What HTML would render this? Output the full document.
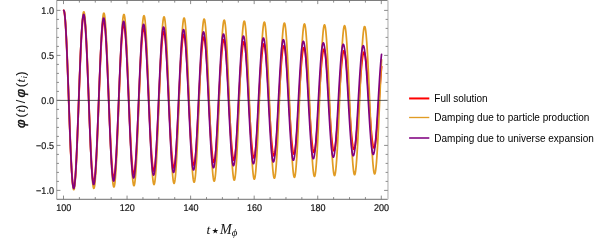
<!DOCTYPE html>
<html><head><meta charset="utf-8"><title>plot</title>
<style>
html,body{margin:0;padding:0;background:#fff;}
svg{display:block}
.tk{font-family:"Liberation Sans",sans-serif;font-size:9.8px;text-rendering:geometricPrecision;fill:#111;stroke:#111;stroke-width:0.2px}
.lg{font-family:"Liberation Sans",sans-serif;font-size:10px;fill:#000}
</style></head><body>
<svg width="600" height="241" viewBox="0 0 600 241">
<rect width="600" height="241" fill="#fff"/>
<g fill="none" stroke-linejoin="round" stroke-linecap="round">
<path d="M63.75,10.40 L63.91,10.56 L64.07,10.94 L64.23,11.54 L64.39,12.36 L64.54,13.40 L64.70,14.66 L64.86,16.13 L65.02,17.80 L65.18,19.68 L65.34,21.76 L65.50,24.03 L65.66,26.49 L65.82,29.13 L65.97,31.95 L66.13,34.93 L66.29,38.07 L66.45,41.37 L66.61,44.81 L66.77,48.38 L66.93,52.08 L67.09,55.89 L67.25,59.81 L67.40,63.83 L67.56,67.94 L67.72,72.12 L67.88,76.37 L68.04,80.67 L68.20,85.02 L68.36,89.40 L68.52,93.81 L68.68,98.23 L68.83,102.65 L68.99,107.06 L69.15,111.44 L69.31,115.80 L69.47,120.11 L69.63,124.37 L69.79,128.57 L69.95,132.69 L70.11,136.73 L70.26,140.68 L70.42,144.52 L70.58,148.24 L70.74,151.85 L70.90,155.32 L71.06,158.65 L71.22,161.84 L71.38,164.86 L71.54,167.73 L71.69,170.42 L71.85,172.94 L72.01,175.28 L72.17,177.43 L72.33,179.38 L72.49,181.13 L72.65,182.69 L72.81,184.03 L72.97,185.17 L73.13,186.10 L73.28,186.81 L73.44,187.31 L73.60,187.59 L73.76,187.65 L73.92,187.49 L74.08,187.12 L74.24,186.54 L74.40,185.74 L74.56,184.73 L74.71,183.51 L74.87,182.08 L75.03,180.46 L75.19,178.63 L75.35,176.61 L75.51,174.41 L75.67,172.02 L75.83,169.46 L75.99,166.73 L76.14,163.84 L76.30,160.79 L76.46,157.59 L76.62,154.26 L76.78,150.79 L76.94,147.20 L77.10,143.50 L77.26,139.70 L77.42,135.80 L77.57,131.82 L77.73,127.76 L77.89,123.64 L78.05,119.46 L78.21,115.24 L78.37,110.99 L78.53,106.72 L78.69,102.43 L78.85,98.15 L79.00,93.87 L79.16,89.62 L79.32,85.39 L79.48,81.21 L79.64,77.07 L79.80,73.00 L79.96,69.00 L80.12,65.09 L80.28,61.26 L80.43,57.54 L80.59,53.92 L80.75,50.43 L80.91,47.06 L81.07,43.83 L81.23,40.74 L81.39,37.80 L81.55,35.02 L81.71,32.41 L81.86,29.97 L82.02,27.70 L82.18,25.62 L82.34,23.73 L82.50,22.03 L82.66,20.52 L82.82,19.22 L82.98,18.11 L83.14,17.22 L83.29,16.53 L83.45,16.05 L83.61,15.78 L83.77,15.72 L83.93,15.87 L84.09,16.23 L84.25,16.80 L84.41,17.58 L84.57,18.57 L84.72,19.75 L84.88,21.14 L85.04,22.72 L85.20,24.49 L85.36,26.45 L85.52,28.59 L85.68,30.91 L85.84,33.40 L86.00,36.05 L86.15,38.86 L86.31,41.83 L86.47,44.93 L86.63,48.17 L86.79,51.53 L86.95,55.02 L87.11,58.61 L87.27,62.31 L87.43,66.09 L87.59,69.96 L87.74,73.90 L87.90,77.90 L88.06,81.96 L88.22,86.06 L88.38,90.18 L88.54,94.33 L88.70,98.50 L88.86,102.66 L89.02,106.81 L89.17,110.94 L89.33,115.05 L89.49,119.11 L89.65,123.12 L89.81,127.08 L89.97,130.96 L90.13,134.76 L90.29,138.48 L90.45,142.09 L90.60,145.60 L90.76,149.00 L90.92,152.27 L91.08,155.40 L91.24,158.40 L91.40,161.25 L91.56,163.95 L91.72,166.49 L91.88,168.86 L92.03,171.06 L92.19,173.08 L92.35,174.91 L92.51,176.57 L92.67,178.03 L92.83,179.29 L92.99,180.36 L93.15,181.23 L93.31,181.90 L93.46,182.36 L93.62,182.62 L93.78,182.67 L93.94,182.52 L94.10,182.17 L94.26,181.61 L94.42,180.86 L94.58,179.90 L94.74,178.74 L94.89,177.40 L95.05,175.86 L95.21,174.13 L95.37,172.23 L95.53,170.14 L95.69,167.89 L95.85,165.47 L96.01,162.89 L96.17,160.16 L96.32,157.28 L96.48,154.26 L96.64,151.11 L96.80,147.84 L96.96,144.45 L97.12,140.95 L97.28,137.36 L97.44,133.68 L97.60,129.92 L97.75,126.09 L97.91,122.20 L98.07,118.26 L98.23,114.28 L98.39,110.26 L98.55,106.23 L98.71,102.18 L98.87,98.14 L99.03,94.10 L99.18,90.08 L99.34,86.09 L99.50,82.14 L99.66,78.24 L99.82,74.40 L99.98,70.63 L100.14,66.93 L100.30,63.32 L100.46,59.81 L100.61,56.39 L100.77,53.10 L100.93,49.92 L101.09,46.87 L101.25,43.95 L101.41,41.18 L101.57,38.56 L101.73,36.10 L101.89,33.79 L102.04,31.66 L102.20,29.70 L102.36,27.91 L102.52,26.31 L102.68,24.89 L102.84,23.66 L103.00,22.62 L103.16,21.78 L103.32,21.13 L103.47,20.68 L103.63,20.43 L103.79,20.38 L103.95,20.53 L104.11,20.88 L104.27,21.42 L104.43,22.16 L104.59,23.09 L104.75,24.22 L104.91,25.53 L105.06,27.03 L105.22,28.71 L105.38,30.56 L105.54,32.59 L105.70,34.79 L105.86,37.14 L106.02,39.66 L106.18,42.32 L106.34,45.12 L106.49,48.06 L106.65,51.12 L106.81,54.31 L106.97,57.60 L107.13,61.00 L107.29,64.50 L107.45,68.08 L107.61,71.74 L107.77,75.47 L107.92,79.25 L108.08,83.09 L108.24,86.96 L108.40,90.87 L108.56,94.80 L108.72,98.73 L108.88,102.67 L109.04,106.60 L109.20,110.51 L109.35,114.39 L109.51,118.23 L109.67,122.03 L109.83,125.76 L109.99,129.44 L110.15,133.03 L110.31,136.54 L110.47,139.96 L110.63,143.28 L110.78,146.49 L110.94,149.58 L111.10,152.55 L111.26,155.38 L111.42,158.08 L111.58,160.63 L111.74,163.03 L111.90,165.27 L112.06,167.34 L112.21,169.25 L112.37,170.99 L112.53,172.55 L112.69,173.92 L112.85,175.12 L113.01,176.13 L113.17,176.94 L113.33,177.57 L113.49,178.01 L113.64,178.25 L113.80,178.30 L113.96,178.15 L114.12,177.81 L114.28,177.28 L114.44,176.56 L114.60,175.65 L114.76,174.55 L114.92,173.27 L115.07,171.81 L115.23,170.17 L115.39,168.36 L115.55,166.39 L115.71,164.25 L115.87,161.95 L116.03,159.50 L116.19,156.91 L116.35,154.18 L116.50,151.32 L116.66,148.33 L116.82,145.23 L116.98,142.02 L117.14,138.71 L117.30,135.30 L117.46,131.81 L117.62,128.25 L117.78,124.62 L117.93,120.93 L118.09,117.19 L118.25,113.42 L118.41,109.62 L118.57,105.79 L118.73,101.96 L118.89,98.13 L119.05,94.30 L119.21,90.49 L119.37,86.71 L119.52,82.97 L119.68,79.27 L119.84,75.63 L120.00,72.06 L120.16,68.56 L120.32,65.14 L120.48,61.81 L120.64,58.58 L120.80,55.45 L120.95,52.44 L121.11,49.55 L121.27,46.79 L121.43,44.17 L121.59,41.69 L121.75,39.35 L121.91,37.17 L122.07,35.15 L122.23,33.29 L122.38,31.60 L122.54,30.09 L122.70,28.75 L122.86,27.59 L123.02,26.61 L123.18,25.81 L123.34,25.20 L123.50,24.78 L123.66,24.55 L123.81,24.50 L123.97,24.65 L124.13,24.98 L124.29,25.50 L124.45,26.21 L124.61,27.10 L124.77,28.17 L124.93,29.42 L125.09,30.84 L125.24,32.44 L125.40,34.20 L125.56,36.13 L125.72,38.22 L125.88,40.46 L126.04,42.84 L126.20,45.37 L126.36,48.03 L126.52,50.82 L126.67,53.74 L126.83,56.76 L126.99,59.89 L127.15,63.12 L127.31,66.44 L127.47,69.84 L127.63,73.32 L127.79,76.86 L127.95,80.45 L128.10,84.09 L128.26,87.77 L128.42,91.48 L128.58,95.21 L128.74,98.94 L128.90,102.68 L129.06,106.41 L129.22,110.12 L129.38,113.80 L129.53,117.45 L129.69,121.05 L129.85,124.60 L130.01,128.09 L130.17,131.50 L130.33,134.83 L130.49,138.08 L130.65,141.23 L130.81,144.27 L130.96,147.20 L131.12,150.02 L131.28,152.71 L131.44,155.26 L131.60,157.68 L131.76,159.96 L131.92,162.08 L132.08,164.05 L132.24,165.86 L132.39,167.50 L132.55,168.98 L132.71,170.29 L132.87,171.42 L133.03,172.37 L133.19,173.14 L133.35,173.73 L133.51,174.14 L133.67,174.37 L133.82,174.41 L133.98,174.27 L134.14,173.94 L134.30,173.43 L134.46,172.74 L134.62,171.87 L134.78,170.82 L134.94,169.60 L135.10,168.21 L135.25,166.65 L135.41,164.93 L135.57,163.05 L135.73,161.01 L135.89,158.82 L136.05,156.49 L136.21,154.03 L136.37,151.43 L136.53,148.71 L136.69,145.86 L136.84,142.91 L137.00,139.86 L137.16,136.71 L137.32,133.47 L137.48,130.15 L137.64,126.76 L137.80,123.31 L137.96,119.80 L138.12,116.25 L138.27,112.66 L138.43,109.04 L138.59,105.40 L138.75,101.76 L138.91,98.11 L139.07,94.48 L139.23,90.86 L139.39,87.26 L139.55,83.70 L139.70,80.19 L139.86,76.73 L140.02,73.33 L140.18,70.00 L140.34,66.75 L140.50,63.59 L140.66,60.52 L140.82,57.55 L140.98,54.69 L141.13,51.94 L141.29,49.32 L141.45,46.83 L141.61,44.47 L141.77,42.25 L141.93,40.18 L142.09,38.26 L142.25,36.50 L142.41,34.90 L142.56,33.46 L142.72,32.18 L142.88,31.08 L143.04,30.16 L143.20,29.40 L143.36,28.83 L143.52,28.43 L143.68,28.21 L143.84,28.18 L143.99,28.32 L144.15,28.64 L144.31,29.14 L144.47,29.81 L144.63,30.66 L144.79,31.69 L144.95,32.88 L145.11,34.24 L145.27,35.77 L145.42,37.45 L145.58,39.29 L145.74,41.28 L145.90,43.41 L146.06,45.69 L146.22,48.10 L146.38,50.64 L146.54,53.30 L146.70,56.07 L146.85,58.95 L147.01,61.94 L147.17,65.01 L147.33,68.18 L147.49,71.42 L147.65,74.73 L147.81,78.10 L147.97,81.52 L148.13,84.99 L148.28,88.49 L148.44,92.03 L148.60,95.58 L148.76,99.13 L148.92,102.69 L149.08,106.24 L149.24,109.78 L149.40,113.29 L149.56,116.76 L149.71,120.19 L149.87,123.57 L150.03,126.88 L150.19,130.13 L150.35,133.31 L150.51,136.40 L150.67,139.39 L150.83,142.29 L150.99,145.08 L151.14,147.76 L151.30,150.32 L151.46,152.75 L151.62,155.05 L151.78,157.21 L151.94,159.23 L152.10,161.11 L152.26,162.83 L152.42,164.39 L152.58,165.79 L152.73,167.03 L152.89,168.11 L153.05,169.01 L153.21,169.74 L153.37,170.30 L153.53,170.69 L153.69,170.90 L153.85,170.93 L154.01,170.79 L154.16,170.48 L154.32,169.99 L154.48,169.32 L154.64,168.49 L154.80,167.49 L154.96,166.32 L155.12,164.99 L155.28,163.50 L155.44,161.85 L155.59,160.06 L155.75,158.11 L155.91,156.02 L156.07,153.80 L156.23,151.44 L156.39,148.96 L156.55,146.37 L156.71,143.65 L156.87,140.84 L157.02,137.92 L157.18,134.91 L157.34,131.82 L157.50,128.66 L157.66,125.42 L157.82,122.13 L157.98,118.78 L158.14,115.40 L158.30,111.97 L158.45,108.52 L158.61,105.05 L158.77,101.58 L158.93,98.10 L159.09,94.63 L159.25,91.18 L159.41,87.75 L159.57,84.36 L159.73,81.01 L159.88,77.71 L160.04,74.47 L160.20,71.30 L160.36,68.20 L160.52,65.18 L160.68,62.25 L160.84,59.42 L161.00,56.70 L161.16,54.08 L161.31,51.58 L161.47,49.21 L161.63,46.96 L161.79,44.85 L161.95,42.88 L162.11,41.05 L162.27,39.37 L162.43,37.85 L162.59,36.48 L162.74,35.27 L162.90,34.22 L163.06,33.34 L163.22,32.63 L163.38,32.08 L163.54,31.71 L163.70,31.50 L163.86,31.47 L164.02,31.61 L164.17,31.92 L164.33,32.40 L164.49,33.05 L164.65,33.87 L164.81,34.85 L164.97,35.99 L165.13,37.30 L165.29,38.75 L165.45,40.37 L165.60,42.13 L165.76,44.03 L165.92,46.07 L166.08,48.24 L166.24,50.55 L166.40,52.97 L166.56,55.52 L166.72,58.17 L166.88,60.92 L167.03,63.77 L167.19,66.71 L167.35,69.74 L167.51,72.83 L167.67,75.99 L167.83,79.21 L167.99,82.48 L168.15,85.80 L168.31,89.14 L168.47,92.52 L168.62,95.91 L168.78,99.31 L168.94,102.71 L169.10,106.10 L169.26,109.47 L169.42,112.82 L169.58,116.14 L169.74,119.41 L169.90,122.64 L170.05,125.80 L170.21,128.91 L170.37,131.93 L170.53,134.88 L170.69,137.74 L170.85,140.51 L171.01,143.17 L171.17,145.73 L171.33,148.17 L171.48,150.49 L171.64,152.69 L171.80,154.75 L171.96,156.68 L172.12,158.46 L172.28,160.10 L172.44,161.59 L172.60,162.93 L172.76,164.11 L172.91,165.13 L173.07,165.99 L173.23,166.68 L173.39,167.21 L173.55,167.58 L173.71,167.77 L173.87,167.80 L174.03,167.66 L174.19,167.36 L174.34,166.89 L174.50,166.25 L174.66,165.45 L174.82,164.49 L174.98,163.37 L175.14,162.09 L175.30,160.66 L175.46,159.08 L175.62,157.36 L175.77,155.50 L175.93,153.50 L176.09,151.37 L176.25,149.12 L176.41,146.74 L176.57,144.26 L176.73,141.66 L176.89,138.97 L177.05,136.18 L177.20,133.30 L177.36,130.34 L177.52,127.31 L177.68,124.22 L177.84,121.07 L178.00,117.87 L178.16,114.63 L178.32,111.35 L178.48,108.05 L178.63,104.74 L178.79,101.41 L178.95,98.09 L179.11,94.77 L179.27,91.47 L179.43,88.19 L179.59,84.95 L179.75,81.75 L179.91,78.59 L180.06,75.50 L180.22,72.46 L180.38,69.50 L180.54,66.62 L180.70,63.82 L180.86,61.12 L181.02,58.51 L181.18,56.01 L181.34,53.62 L181.49,51.36 L181.65,49.21 L181.81,47.19 L181.97,45.31 L182.13,43.57 L182.29,41.96 L182.45,40.51 L182.61,39.20 L182.77,38.05 L182.93,37.05 L183.08,36.21 L183.24,35.53 L183.40,35.02 L183.56,34.66 L183.72,34.47 L183.88,34.45 L184.04,34.59 L184.20,34.89 L184.36,35.35 L184.51,35.98 L184.67,36.76 L184.83,37.71 L184.99,38.80 L185.15,40.05 L185.31,41.45 L185.47,43.00 L185.63,44.69 L185.79,46.51 L185.94,48.47 L186.10,50.55 L186.26,52.76 L186.42,55.09 L186.58,57.52 L186.74,60.06 L186.90,62.70 L187.06,65.43 L187.22,68.25 L187.37,71.15 L187.53,74.11 L187.69,77.14 L187.85,80.22 L188.01,83.36 L188.17,86.53 L188.33,89.73 L188.49,92.96 L188.65,96.21 L188.80,99.46 L188.96,102.72 L189.12,105.96 L189.28,109.19 L189.44,112.40 L189.60,115.57 L189.76,118.71 L189.92,121.80 L190.08,124.83 L190.23,127.80 L190.39,130.69 L190.55,133.52 L190.71,136.25 L190.87,138.90 L191.03,141.45 L191.19,143.89 L191.35,146.23 L191.51,148.45 L191.66,150.55 L191.82,152.52 L191.98,154.36 L192.14,156.07 L192.30,157.63 L192.46,159.06 L192.62,160.33 L192.78,161.46 L192.94,162.43 L193.09,163.25 L193.25,163.91 L193.41,164.42 L193.57,164.76 L193.73,164.95 L193.89,164.97 L194.05,164.83 L194.21,164.54 L194.37,164.08 L194.52,163.46 L194.68,162.69 L194.84,161.77 L195.00,160.69 L195.16,159.46 L195.32,158.09 L195.48,156.58 L195.64,154.92 L195.80,153.13 L195.95,151.22 L196.11,149.17 L196.27,147.01 L196.43,144.73 L196.59,142.34 L196.75,139.85 L196.91,137.27 L197.07,134.59 L197.23,131.83 L197.38,129.00 L197.54,126.09 L197.70,123.13 L197.86,120.11 L198.02,117.04 L198.18,113.93 L198.34,110.79 L198.50,107.63 L198.66,104.45 L198.81,101.26 L198.97,98.08 L199.13,94.90 L199.29,91.73 L199.45,88.59 L199.61,85.49 L199.77,82.42 L199.93,79.39 L200.09,76.43 L200.25,73.52 L200.40,70.68 L200.56,67.92 L200.72,65.24 L200.88,62.65 L201.04,60.15 L201.20,57.76 L201.36,55.48 L201.52,53.30 L201.68,51.25 L201.83,49.32 L201.99,47.52 L202.15,45.85 L202.31,44.32 L202.47,42.92 L202.63,41.68 L202.79,40.57 L202.95,39.62 L203.11,38.82 L203.26,38.17 L203.42,37.68 L203.58,37.35 L203.74,37.17 L203.90,37.15 L204.06,37.29 L204.22,37.58 L204.38,38.03 L204.54,38.63 L204.69,39.39 L204.85,40.30 L205.01,41.36 L205.17,42.56 L205.33,43.91 L205.49,45.39 L205.65,47.01 L205.81,48.77 L205.97,50.65 L206.12,52.65 L206.28,54.77 L206.44,57.01 L206.60,59.35 L206.76,61.79 L206.92,64.32 L207.08,66.94 L207.24,69.65 L207.40,72.43 L207.55,75.27 L207.71,78.18 L207.87,81.14 L208.03,84.15 L208.19,87.19 L208.35,90.27 L208.51,93.37 L208.67,96.48 L208.83,99.61 L208.98,102.73 L209.14,105.84 L209.30,108.94 L209.46,112.02 L209.62,115.07 L209.78,118.07 L209.94,121.03 L210.10,123.94 L210.26,126.79 L210.41,129.57 L210.57,132.27 L210.73,134.90 L210.89,137.44 L211.05,139.88 L211.21,142.22 L211.37,144.46 L211.53,146.59 L211.69,148.60 L211.84,150.49 L212.00,152.25 L212.16,153.89 L212.32,155.39 L212.48,156.75 L212.64,157.97 L212.80,159.05 L212.96,159.98 L213.12,160.76 L213.27,161.39 L213.43,161.87 L213.59,162.20 L213.75,162.37 L213.91,162.39 L214.07,162.26 L214.23,161.97 L214.39,161.52 L214.55,160.93 L214.70,160.18 L214.86,159.29 L215.02,158.25 L215.18,157.07 L215.34,155.75 L215.50,154.29 L215.66,152.70 L215.82,150.98 L215.98,149.13 L216.14,147.17 L216.29,145.09 L216.45,142.90 L216.61,140.60 L216.77,138.21 L216.93,135.72 L217.09,133.15 L217.25,130.50 L217.41,127.77 L217.57,124.98 L217.72,122.13 L217.88,119.23 L218.04,116.28 L218.20,113.29 L218.36,110.28 L218.52,107.24 L218.68,104.19 L218.84,101.12 L219.00,98.06 L219.15,95.01 L219.31,91.97 L219.47,88.96 L219.63,85.97 L219.79,83.02 L219.95,80.12 L220.11,77.27 L220.27,74.48 L220.43,71.76 L220.58,69.11 L220.74,66.53 L220.90,64.05 L221.06,61.65 L221.22,59.36 L221.38,57.16 L221.54,55.08 L221.70,53.11 L221.86,51.26 L222.01,49.53 L222.17,47.93 L222.33,46.46 L222.49,45.13 L222.65,43.93 L222.81,42.88 L222.97,41.96 L223.13,41.20 L223.29,40.58 L223.44,40.11 L223.60,39.80 L223.76,39.63 L223.92,39.61 L224.08,39.75 L224.24,40.03 L224.40,40.47 L224.56,41.06 L224.72,41.79 L224.87,42.67 L225.03,43.69 L225.19,44.85 L225.35,46.14 L225.51,47.58 L225.67,49.14 L225.83,50.83 L225.99,52.64 L226.15,54.57 L226.30,56.61 L226.46,58.76 L226.62,61.01 L226.78,63.36 L226.94,65.80 L227.10,68.32 L227.26,70.93 L227.42,73.60 L227.58,76.34 L227.73,79.13 L227.89,81.98 L228.05,84.87 L228.21,87.80 L228.37,90.76 L228.53,93.74 L228.69,96.74 L228.85,99.74 L229.01,102.74 L229.16,105.74 L229.32,108.72 L229.48,111.67 L229.64,114.60 L229.80,117.49 L229.96,120.34 L230.12,123.13 L230.28,125.87 L230.44,128.54 L230.59,131.14 L230.75,133.66 L230.91,136.10 L231.07,138.45 L231.23,140.70 L231.39,142.85 L231.55,144.89 L231.71,146.82 L231.87,148.64 L232.03,150.33 L232.18,151.90 L232.34,153.34 L232.50,154.64 L232.66,155.82 L232.82,156.85 L232.98,157.74 L233.14,158.49 L233.30,159.09 L233.46,159.55 L233.61,159.86 L233.77,160.02 L233.93,160.03 L234.09,159.90 L234.25,159.62 L234.41,159.19 L234.57,158.61 L234.73,157.89 L234.89,157.03 L235.04,156.02 L235.20,154.88 L235.36,153.61 L235.52,152.20 L235.68,150.67 L235.84,149.01 L236.00,147.23 L236.16,145.33 L236.32,143.33 L236.47,141.22 L236.63,139.01 L236.79,136.70 L236.95,134.31 L237.11,131.83 L237.27,129.28 L237.43,126.65 L237.59,123.96 L237.75,121.22 L237.90,118.42 L238.06,115.59 L238.22,112.71 L238.38,109.81 L238.54,106.88 L238.70,103.94 L238.86,101.00 L239.02,98.05 L239.18,95.11 L239.33,92.19 L239.49,89.29 L239.65,86.42 L239.81,83.58 L239.97,80.79 L240.13,78.05 L240.29,75.36 L240.45,72.74 L240.61,70.19 L240.76,67.72 L240.92,65.33 L241.08,63.02 L241.24,60.82 L241.40,58.71 L241.56,56.70 L241.72,54.81 L241.88,53.03 L242.04,51.37 L242.19,49.83 L242.35,48.42 L242.51,47.14 L242.67,46.00 L242.83,44.98 L242.99,44.11 L243.15,43.38 L243.31,42.79 L243.47,42.34 L243.62,42.04 L243.78,41.88 L243.94,41.87 L244.10,42.01 L244.26,42.29 L244.42,42.71 L244.58,43.28 L244.74,43.99 L244.90,44.83 L245.05,45.82 L245.21,46.94 L245.37,48.20 L245.53,49.58 L245.69,51.09 L245.85,52.72 L246.01,54.47 L246.17,56.33 L246.33,58.30 L246.48,60.37 L246.64,62.54 L246.80,64.81 L246.96,67.16 L247.12,69.59 L247.28,72.10 L247.44,74.67 L247.60,77.31 L247.76,80.01 L247.92,82.75 L248.07,85.54 L248.23,88.36 L248.39,91.21 L248.55,94.08 L248.71,96.97 L248.87,99.86 L249.03,102.75 L249.19,105.64 L249.35,108.51 L249.50,111.36 L249.66,114.18 L249.82,116.96 L249.98,119.70 L250.14,122.39 L250.30,125.03 L250.46,127.60 L250.62,130.10 L250.78,132.53 L250.93,134.87 L251.09,137.13 L251.25,139.30 L251.41,141.37 L251.57,143.33 L251.73,145.19 L251.89,146.94 L252.05,148.56 L252.21,150.07 L252.36,151.46 L252.52,152.71 L252.68,153.84 L252.84,154.83 L253.00,155.68 L253.16,156.40 L253.32,156.98 L253.48,157.41 L253.64,157.71 L253.79,157.86 L253.95,157.87 L254.11,157.73 L254.27,157.46 L254.43,157.04 L254.59,156.48 L254.75,155.78 L254.91,154.95 L255.07,153.98 L255.22,152.87 L255.38,151.64 L255.54,150.28 L255.70,148.80 L255.86,147.20 L256.02,145.48 L256.18,143.65 L256.34,141.71 L256.50,139.68 L256.65,137.54 L256.81,135.32 L256.97,133.01 L257.13,130.62 L257.29,128.15 L257.45,125.62 L257.61,123.03 L257.77,120.38 L257.93,117.68 L258.08,114.95 L258.24,112.17 L258.40,109.37 L258.56,106.55 L258.72,103.72 L258.88,100.88 L259.04,98.04 L259.20,95.21 L259.36,92.39 L259.51,89.59 L259.67,86.82 L259.83,84.09 L259.99,81.40 L260.15,78.76 L260.31,76.17 L260.47,73.64 L260.63,71.19 L260.79,68.80 L260.94,66.50 L261.10,64.28 L261.26,62.16 L261.42,60.13 L261.58,58.20 L261.74,56.38 L261.90,54.66 L262.06,53.07 L262.22,51.59 L262.38,50.23 L262.53,49.00 L262.69,47.90 L262.85,46.92 L263.01,46.09 L263.17,45.38 L263.33,44.82 L263.49,44.39 L263.65,44.10 L263.81,43.96 L263.96,43.95 L264.12,44.08 L264.28,44.36 L264.44,44.77 L264.60,45.32 L264.76,46.01 L264.92,46.83 L265.08,47.79 L265.24,48.87 L265.39,50.08 L265.55,51.42 L265.71,52.88 L265.87,54.46 L266.03,56.15 L266.19,57.94 L266.35,59.85 L266.51,61.85 L266.67,63.95 L266.82,66.14 L266.98,68.41 L267.14,70.76 L267.30,73.18 L267.46,75.67 L267.62,78.21 L267.78,80.82 L267.94,83.46 L268.10,86.15 L268.25,88.88 L268.41,91.63 L268.57,94.40 L268.73,97.19 L268.89,99.98 L269.05,102.77 L269.21,105.55 L269.37,108.32 L269.53,111.07 L269.68,113.79 L269.84,116.47 L270.00,119.11 L270.16,121.71 L270.32,124.25 L270.48,126.73 L270.64,129.14 L270.80,131.48 L270.96,133.75 L271.11,135.92 L271.27,138.01 L271.43,140.01 L271.59,141.90 L271.75,143.69 L271.91,145.37 L272.07,146.94 L272.23,148.39 L272.39,149.72 L272.54,150.93 L272.70,152.01 L272.86,152.96 L273.02,153.79 L273.18,154.47 L273.34,155.03 L273.50,155.45 L273.66,155.73 L273.82,155.87 L273.97,155.87 L274.13,155.74 L274.29,155.47 L274.45,155.06 L274.61,154.52 L274.77,153.84 L274.93,153.03 L275.09,152.09 L275.25,151.02 L275.40,149.83 L275.56,148.51 L275.72,147.07 L275.88,145.52 L276.04,143.86 L276.20,142.09 L276.36,140.22 L276.52,138.25 L276.68,136.19 L276.83,134.04 L276.99,131.81 L277.15,129.50 L277.31,127.11 L277.47,124.67 L277.63,122.16 L277.79,119.60 L277.95,117.00 L278.11,114.36 L278.26,111.68 L278.42,108.97 L278.58,106.25 L278.74,103.51 L278.90,100.77 L279.06,98.03 L279.22,95.29 L279.38,92.57 L279.54,89.87 L279.70,87.20 L279.85,84.56 L280.01,81.96 L280.17,79.41 L280.33,76.92 L280.49,74.48 L280.65,72.11 L280.81,69.81 L280.97,67.59 L281.13,65.45 L281.28,63.39 L281.44,61.44 L281.60,59.58 L281.76,57.82 L281.92,56.17 L282.08,54.63 L282.24,53.20 L282.40,51.90 L282.56,50.71 L282.71,49.65 L282.87,48.71 L283.03,47.91 L283.19,47.23 L283.35,46.69 L283.51,46.28 L283.67,46.01 L283.83,45.87 L283.99,45.87 L284.14,46.00 L284.30,46.27 L284.46,46.67 L284.62,47.21 L284.78,47.88 L284.94,48.68 L285.10,49.60 L285.26,50.65 L285.42,51.83 L285.57,53.13 L285.73,54.54 L285.89,56.06 L286.05,57.70 L286.21,59.44 L286.37,61.28 L286.53,63.22 L286.69,65.25 L286.85,67.36 L287.00,69.56 L287.16,71.83 L287.32,74.18 L287.48,76.58 L287.64,79.05 L287.80,81.56 L287.96,84.12 L288.12,86.72 L288.28,89.36 L288.43,92.02 L288.59,94.69 L288.75,97.38 L288.91,100.08 L289.07,102.78 L289.23,105.47 L289.39,108.14 L289.55,110.80 L289.71,113.43 L289.86,116.02 L290.02,118.57 L290.18,121.08 L290.34,123.53 L290.50,125.93 L290.66,128.26 L290.82,130.52 L290.98,132.70 L291.14,134.81 L291.29,136.82 L291.45,138.75 L291.61,140.57 L291.77,142.30 L291.93,143.92 L292.09,145.43 L292.25,146.83 L292.41,148.12 L292.57,149.28 L292.72,150.32 L292.88,151.24 L293.04,152.03 L293.20,152.69 L293.36,153.23 L293.52,153.62 L293.68,153.89 L293.84,154.03 L294.00,154.03 L294.15,153.89 L294.31,153.63 L294.47,153.23 L294.63,152.70 L294.79,152.04 L294.95,151.25 L295.11,150.34 L295.27,149.30 L295.43,148.15 L295.59,146.87 L295.74,145.48 L295.90,143.98 L296.06,142.37 L296.22,140.65 L296.38,138.84 L296.54,136.93 L296.70,134.94 L296.86,132.85 L297.02,130.69 L297.17,128.46 L297.33,126.15 L297.49,123.79 L297.65,121.36 L297.81,118.89 L297.97,116.37 L298.13,113.81 L298.29,111.22 L298.45,108.60 L298.60,105.97 L298.76,103.32 L298.92,100.67 L299.08,98.02 L299.24,95.37 L299.40,92.74 L299.56,90.13 L299.72,87.54 L299.88,84.99 L300.03,82.48 L300.19,80.02 L300.35,77.60 L300.51,75.25 L300.67,72.96 L300.83,70.74 L300.99,68.59 L301.15,66.52 L301.31,64.54 L301.46,62.65 L301.62,60.85 L301.78,59.16 L301.94,57.56 L302.10,56.08 L302.26,54.70 L302.42,53.44 L302.58,52.30 L302.74,51.27 L302.89,50.37 L303.05,49.60 L303.21,48.95 L303.37,48.43 L303.53,48.03 L303.69,47.77 L303.85,47.64 L304.01,47.65 L304.17,47.78 L304.32,48.04 L304.48,48.44 L304.64,48.96 L304.80,49.61 L304.96,50.38 L305.12,51.28 L305.28,52.31 L305.44,53.45 L305.60,54.70 L305.75,56.07 L305.91,57.55 L306.07,59.14 L306.23,60.83 L306.39,62.61 L306.55,64.49 L306.71,66.46 L306.87,68.50 L307.03,70.63 L307.18,72.83 L307.34,75.10 L307.50,77.43 L307.66,79.82 L307.82,82.25 L307.98,84.73 L308.14,87.25 L308.30,89.80 L308.46,92.37 L308.61,94.97 L308.77,97.57 L308.93,100.18 L309.09,102.79 L309.25,105.39 L309.41,107.98 L309.57,110.55 L309.73,113.09 L309.89,115.60 L310.04,118.07 L310.20,120.50 L310.36,122.87 L310.52,125.19 L310.68,127.44 L310.84,129.63 L311.00,131.74 L311.16,133.77 L311.32,135.72 L311.48,137.58 L311.63,139.34 L311.79,141.01 L311.95,142.58 L312.11,144.04 L312.27,145.39 L312.43,146.63 L312.59,147.75 L312.75,148.76 L312.91,149.64 L313.06,150.41 L313.22,151.04 L313.38,151.55 L313.54,151.94 L313.70,152.19 L313.86,152.32 L314.02,152.31 L314.18,152.18 L314.34,151.92 L314.49,151.53 L314.65,151.01 L314.81,150.37 L314.97,149.61 L315.13,148.72 L315.29,147.71 L315.45,146.59 L315.61,145.35 L315.77,144.00 L315.92,142.54 L316.08,140.98 L316.24,139.32 L316.40,137.56 L316.56,135.71 L316.72,133.77 L316.88,131.76 L317.04,129.66 L317.20,127.49 L317.35,125.26 L317.51,122.97 L317.67,120.62 L317.83,118.22 L317.99,115.78 L318.15,113.30 L318.31,110.79 L318.47,108.26 L318.63,105.70 L318.78,103.14 L318.94,100.57 L319.10,98.00 L319.26,95.44 L319.42,92.89 L319.58,90.37 L319.74,87.87 L319.90,85.40 L320.06,82.97 L320.21,80.58 L320.37,78.24 L320.53,75.97 L320.69,73.75 L320.85,71.60 L321.01,69.52 L321.17,67.52 L321.33,65.60 L321.49,63.78 L321.64,62.04 L321.80,60.40 L321.96,58.86 L322.12,57.42 L322.28,56.09 L322.44,54.87 L322.60,53.77 L322.76,52.78 L322.92,51.91 L323.07,51.16 L323.23,50.54 L323.39,50.04 L323.55,49.66 L323.71,49.41 L323.87,49.29 L324.03,49.30 L324.19,49.43 L324.35,49.69 L324.50,50.07 L324.66,50.58 L324.82,51.22 L324.98,51.97 L325.14,52.85 L325.30,53.84 L325.46,54.95 L325.62,56.17 L325.78,57.50 L325.94,58.94 L326.09,60.48 L326.25,62.12 L326.41,63.85 L326.57,65.67 L326.73,67.58 L326.89,69.57 L327.05,71.63 L327.21,73.76 L327.37,75.96 L327.52,78.22 L327.68,80.54 L327.84,82.90 L328.00,85.30 L328.16,87.74 L328.32,90.21 L328.48,92.71 L328.64,95.22 L328.80,97.74 L328.95,100.27 L329.11,102.80 L329.27,105.32 L329.43,107.83 L329.59,110.32 L329.75,112.78 L329.91,115.21 L330.07,117.61 L330.23,119.95 L330.38,122.25 L330.54,124.50 L330.70,126.68 L330.86,128.79 L331.02,130.84 L331.18,132.81 L331.34,134.69 L331.50,136.49 L331.66,138.20 L331.81,139.81 L331.97,141.33 L332.13,142.74 L332.29,144.05 L332.45,145.25 L332.61,146.33 L332.77,147.30 L332.93,148.16 L333.09,148.89 L333.24,149.51 L333.40,150.00 L333.56,150.36 L333.72,150.61 L333.88,150.73 L334.04,150.72 L334.20,150.59 L334.36,150.33 L334.52,149.95 L334.67,149.44 L334.83,148.82 L334.99,148.07 L335.15,147.21 L335.31,146.23 L335.47,145.14 L335.63,143.93 L335.79,142.62 L335.95,141.20 L336.10,139.69 L336.26,138.07 L336.42,136.37 L336.58,134.57 L336.74,132.69 L336.90,130.73 L337.06,128.70 L337.22,126.59 L337.38,124.43 L337.53,122.20 L337.69,119.92 L337.85,117.60 L338.01,115.23 L338.17,112.82 L338.33,110.39 L338.49,107.93 L338.65,105.46 L338.81,102.97 L338.96,100.48 L339.12,97.99 L339.28,95.51 L339.44,93.04 L339.60,90.59 L339.76,88.16 L339.92,85.77 L340.08,83.41 L340.24,81.10 L340.39,78.84 L340.55,76.63 L340.71,74.48 L340.87,72.40 L341.03,70.39 L341.19,68.45 L341.35,66.60 L341.51,64.82 L341.67,63.14 L341.82,61.55 L341.98,60.06 L342.14,58.67 L342.30,57.39 L342.46,56.21 L342.62,55.14 L342.78,54.19 L342.94,53.35 L343.10,52.63 L343.26,52.02 L343.41,51.54 L343.57,51.18 L343.73,50.94 L343.89,50.83 L344.05,50.84 L344.21,50.97 L344.37,51.23 L344.53,51.60 L344.69,52.10 L344.84,52.72 L345.00,53.45 L345.16,54.31 L345.32,55.27 L345.48,56.35 L345.64,57.54 L345.80,58.84 L345.96,60.23 L346.12,61.73 L346.27,63.32 L346.43,65.00 L346.59,66.77 L346.75,68.62 L346.91,70.56 L347.07,72.56 L347.23,74.63 L347.39,76.77 L347.55,78.96 L347.70,81.21 L347.86,83.50 L348.02,85.83 L348.18,88.20 L348.34,90.60 L348.50,93.02 L348.66,95.46 L348.82,97.91 L348.98,100.36 L349.13,102.81 L349.29,105.26 L349.45,107.69 L349.61,110.11 L349.77,112.49 L349.93,114.85 L350.09,117.17 L350.25,119.45 L350.41,121.68 L350.56,123.85 L350.72,125.97 L350.88,128.02 L351.04,130.00 L351.20,131.91 L351.36,133.73 L351.52,135.48 L351.68,137.13 L351.84,138.70 L351.99,140.16 L352.15,141.53 L352.31,142.80 L352.47,143.96 L352.63,145.01 L352.79,145.95 L352.95,146.77 L353.11,147.48 L353.27,148.07 L353.42,148.54 L353.58,148.90 L353.74,149.13 L353.90,149.24 L354.06,149.23 L354.22,149.10 L354.38,148.85 L354.54,148.47 L354.70,147.98 L354.85,147.37 L355.01,146.64 L355.17,145.80 L355.33,144.84 L355.49,143.78 L355.65,142.61 L355.81,141.33 L355.97,139.95 L356.13,138.48 L356.28,136.91 L356.44,135.25 L356.60,133.50 L356.76,131.68 L356.92,129.77 L357.08,127.80 L357.24,125.75 L357.40,123.65 L357.56,121.49 L357.71,119.27 L357.87,117.01 L358.03,114.71 L358.19,112.38 L358.35,110.02 L358.51,107.63 L358.67,105.23 L358.83,102.82 L358.99,100.40 L359.15,97.98 L359.30,95.57 L359.46,93.17 L359.62,90.79 L359.78,88.44 L359.94,86.12 L360.10,83.83 L360.26,81.59 L360.42,79.40 L360.58,77.25 L360.73,75.17 L360.89,73.15 L361.05,71.20 L361.21,69.32 L361.37,67.52 L361.53,65.80 L361.69,64.17 L361.85,62.63 L362.01,61.19 L362.16,59.84 L362.32,58.60 L362.48,57.46 L362.64,56.42 L362.80,55.50 L362.96,54.69 L363.12,53.99 L363.28,53.41 L363.44,52.95 L363.59,52.60 L363.75,52.37 L363.91,52.27 L364.07,52.28 L364.23,52.41 L364.39,52.66 L364.55,53.03 L364.71,53.52 L364.87,54.12 L365.02,54.84 L365.18,55.67 L365.34,56.61 L365.50,57.66 L365.66,58.82 L365.82,60.08 L365.98,61.44 L366.14,62.90 L366.30,64.44 L366.45,66.08 L366.61,67.80 L366.77,69.60 L366.93,71.48 L367.09,73.43 L367.25,75.44 L367.41,77.52 L367.57,79.65 L367.73,81.83 L367.88,84.06 L368.04,86.33 L368.20,88.63 L368.36,90.96 L368.52,93.31 L368.68,95.68 L368.84,98.06 L369.00,100.44 L369.16,102.83 L369.31,105.20 L369.47,107.56 L369.63,109.91 L369.79,112.23 L369.95,114.51 L370.11,116.77 L370.27,118.98 L370.43,121.14 L370.59,123.25 L370.74,125.30 L370.90,127.29 L371.06,129.22 L371.22,131.07 L371.38,132.84 L371.54,134.53 L371.70,136.14 L371.86,137.65 L372.02,139.08 L372.17,140.40 L372.33,141.63 L372.49,142.75 L372.65,143.77 L372.81,144.67 L372.97,145.47 L373.13,146.16 L373.29,146.73 L373.45,147.19 L373.61,147.53 L373.76,147.75 L373.92,147.85 L374.08,147.84 L374.24,147.71 L374.40,147.46 L374.56,147.09 L374.72,146.61 L374.88,146.01 L375.04,145.30 L375.19,144.48 L375.35,143.55 L375.51,142.51 L375.67,141.37 L375.83,140.13 L375.99,138.78 L376.15,137.35 L376.31,135.82 L376.47,134.21 L376.62,132.51 L376.78,130.73 L376.94,128.88 L377.10,126.96 L377.26,124.97 L377.42,122.92 L377.58,120.82 L377.74,118.67 L377.90,116.47 L378.05,114.23 L378.21,111.96 L378.37,109.67 L378.53,107.35 L378.69,105.01 L378.85,102.67 L379.01,100.32 L379.17,97.97 L379.33,95.63 L379.48,93.30 L379.64,90.99 L379.80,88.70 L379.96,86.45 L380.12,84.23 L380.28,82.05 L380.44,79.91 L380.60,77.83 L380.76,75.81 L380.91,73.85 L381.07,71.96 L381.23,70.13 L381.39,68.39 L381.55,66.72" stroke="#f00" stroke-width="1.9"/>
<path d="M63.75,10.40 L63.91,10.52 L64.07,10.87 L64.23,11.44 L64.39,12.22 L64.54,13.23 L64.70,14.45 L64.86,15.88 L65.02,17.53 L65.18,19.37 L65.34,21.42 L65.50,23.66 L65.66,26.10 L65.82,28.71 L65.97,31.50 L66.13,34.47 L66.29,37.59 L66.45,40.87 L66.61,44.30 L66.77,47.86 L66.93,51.56 L67.09,55.37 L67.25,59.29 L67.40,63.32 L67.56,67.44 L67.72,71.63 L67.88,75.90 L68.04,80.23 L68.20,84.60 L68.36,89.01 L68.52,93.45 L68.68,97.91 L68.83,102.37 L68.99,106.83 L69.15,111.27 L69.31,115.68 L69.47,120.05 L69.63,124.37 L69.79,128.63 L69.95,132.82 L70.11,136.93 L70.26,140.95 L70.42,144.86 L70.58,148.67 L70.74,152.35 L70.90,155.91 L71.06,159.32 L71.22,162.59 L71.38,165.71 L71.54,168.66 L71.69,171.44 L71.85,174.05 L72.01,176.47 L72.17,178.70 L72.33,180.74 L72.49,182.58 L72.65,184.22 L72.81,185.64 L72.97,186.86 L73.13,187.86 L73.28,188.65 L73.44,189.21 L73.60,189.56 L73.76,189.68 L73.92,189.59 L74.08,189.27 L74.24,188.73 L74.40,187.98 L74.56,187.01 L74.71,185.82 L74.87,184.42 L75.03,182.82 L75.19,181.01 L75.35,179.00 L75.51,176.79 L75.67,174.40 L75.83,171.83 L75.99,169.08 L76.14,166.16 L76.30,163.08 L76.46,159.84 L76.62,156.46 L76.78,152.94 L76.94,149.29 L77.10,145.52 L77.26,141.64 L77.42,137.65 L77.57,133.58 L77.73,129.43 L77.89,125.20 L78.05,120.92 L78.21,116.58 L78.37,112.21 L78.53,107.80 L78.69,103.38 L78.85,98.96 L79.00,94.53 L79.16,90.13 L79.32,85.75 L79.48,81.41 L79.64,77.11 L79.80,72.88 L79.96,68.71 L80.12,64.63 L80.28,60.63 L80.43,56.73 L80.59,52.94 L80.75,49.27 L80.91,45.73 L81.07,42.33 L81.23,39.06 L81.39,35.96 L81.55,33.01 L81.71,30.23 L81.86,27.62 L82.02,25.20 L82.18,22.96 L82.34,20.91 L82.50,19.06 L82.66,17.42 L82.82,15.98 L82.98,14.75 L83.14,13.73 L83.29,12.92 L83.45,12.34 L83.61,11.97 L83.77,11.82 L83.93,11.89 L84.09,12.18 L84.25,12.68 L84.41,13.41 L84.57,14.35 L84.72,15.50 L84.88,16.86 L85.04,18.43 L85.20,20.21 L85.36,22.18 L85.52,24.34 L85.68,26.69 L85.84,29.22 L86.00,31.93 L86.15,34.81 L86.31,37.85 L86.47,41.04 L86.63,44.38 L86.79,47.86 L86.95,51.47 L87.11,55.19 L87.27,59.03 L87.43,62.97 L87.59,67.00 L87.74,71.12 L87.90,75.30 L88.06,79.55 L88.22,83.85 L88.38,88.18 L88.54,92.55 L88.70,96.93 L88.86,101.32 L89.02,105.71 L89.17,110.09 L89.33,114.44 L89.49,118.75 L89.65,123.01 L89.81,127.22 L89.97,131.37 L90.13,135.43 L90.29,139.41 L90.45,143.29 L90.60,147.06 L90.76,150.71 L90.92,154.24 L91.08,157.64 L91.24,160.89 L91.40,164.00 L91.56,166.94 L91.72,169.72 L91.88,172.32 L92.03,174.75 L92.19,177.00 L92.35,179.05 L92.51,180.91 L92.67,182.56 L92.83,184.02 L92.99,185.26 L93.15,186.30 L93.31,187.12 L93.46,187.73 L93.62,188.12 L93.78,188.29 L93.94,188.25 L94.10,187.99 L94.26,187.51 L94.42,186.82 L94.58,185.91 L94.74,184.79 L94.89,183.46 L95.05,181.93 L95.21,180.19 L95.37,178.26 L95.53,176.14 L95.69,173.82 L95.85,171.33 L96.01,168.66 L96.17,165.83 L96.32,162.83 L96.48,159.68 L96.64,156.38 L96.80,152.94 L96.96,149.38 L97.12,145.69 L97.28,141.90 L97.44,138.00 L97.60,134.01 L97.75,129.93 L97.91,125.79 L98.07,121.58 L98.23,117.32 L98.39,113.02 L98.55,108.70 L98.71,104.35 L98.87,99.99 L99.03,95.63 L99.18,91.29 L99.34,86.97 L99.50,82.69 L99.66,78.45 L99.82,74.26 L99.98,70.14 L100.14,66.10 L100.30,62.14 L100.46,58.28 L100.61,54.52 L100.77,50.88 L100.93,47.37 L101.09,43.98 L101.25,40.73 L101.41,37.64 L101.57,34.70 L101.73,31.92 L101.89,29.31 L102.04,26.88 L102.20,24.64 L102.36,22.58 L102.52,20.71 L102.68,19.04 L102.84,17.58 L103.00,16.32 L103.16,15.26 L103.32,14.42 L103.47,13.79 L103.63,13.38 L103.79,13.18 L103.95,13.20 L104.11,13.44 L104.27,13.88 L104.43,14.55 L104.59,15.42 L104.75,16.51 L104.91,17.81 L105.06,19.30 L105.22,21.00 L105.38,22.90 L105.54,24.98 L105.70,27.26 L105.86,29.71 L106.02,32.34 L106.18,35.13 L106.34,38.09 L106.49,41.20 L106.65,44.46 L106.81,47.85 L106.97,51.38 L107.13,55.02 L107.29,58.77 L107.45,62.63 L107.61,66.58 L107.77,70.62 L107.92,74.72 L108.08,78.89 L108.24,83.11 L108.40,87.37 L108.56,91.67 L108.72,95.98 L108.88,100.31 L109.04,104.63 L109.20,108.94 L109.35,113.23 L109.51,117.49 L109.67,121.70 L109.83,125.86 L109.99,129.96 L110.15,133.98 L110.31,137.92 L110.47,141.76 L110.63,145.50 L110.78,149.13 L110.94,152.64 L111.10,156.01 L111.26,159.25 L111.42,162.34 L111.58,165.28 L111.74,168.06 L111.90,170.66 L112.06,173.10 L112.21,175.35 L112.37,177.41 L112.53,179.29 L112.69,180.97 L112.85,182.45 L113.01,183.72 L113.17,184.79 L113.33,185.65 L113.49,186.30 L113.64,186.73 L113.80,186.95 L113.96,186.96 L114.12,186.75 L114.28,186.33 L114.44,185.70 L114.60,184.85 L114.76,183.80 L114.92,182.54 L115.07,181.07 L115.23,179.41 L115.39,177.55 L115.55,175.50 L115.71,173.27 L115.87,170.85 L116.03,168.27 L116.19,165.51 L116.35,162.59 L116.50,159.52 L116.66,156.31 L116.82,152.95 L116.98,149.47 L117.14,145.87 L117.30,142.15 L117.46,138.34 L117.62,134.42 L117.78,130.43 L117.93,126.36 L118.09,122.23 L118.25,118.05 L118.41,113.82 L118.57,109.56 L118.73,105.28 L118.89,100.99 L119.05,96.70 L119.21,92.42 L119.37,88.15 L119.52,83.92 L119.68,79.74 L119.84,75.60 L120.00,71.53 L120.16,67.53 L120.32,63.61 L120.48,59.78 L120.64,56.05 L120.80,52.44 L120.95,48.94 L121.11,45.58 L121.27,42.35 L121.43,39.26 L121.59,36.33 L121.75,33.56 L121.91,30.95 L122.07,28.51 L122.23,26.26 L122.38,24.18 L122.54,22.30 L122.70,20.61 L122.86,19.12 L123.02,17.83 L123.18,16.74 L123.34,15.87 L123.50,15.20 L123.66,14.74 L123.81,14.50 L123.97,14.47 L124.13,14.65 L124.29,15.04 L124.45,15.65 L124.61,16.46 L124.77,17.48 L124.93,18.71 L125.09,20.14 L125.24,21.77 L125.40,23.59 L125.56,25.60 L125.72,27.80 L125.88,30.18 L126.04,32.73 L126.20,35.44 L126.36,38.32 L126.52,41.35 L126.67,44.53 L126.83,47.84 L126.99,51.28 L127.15,54.84 L127.31,58.52 L127.47,62.30 L127.63,66.17 L127.79,70.13 L127.95,74.16 L128.10,78.25 L128.26,82.40 L128.42,86.59 L128.58,90.81 L128.74,95.06 L128.90,99.32 L129.06,103.58 L129.22,107.83 L129.38,112.07 L129.53,116.27 L129.69,120.43 L129.85,124.55 L130.01,128.60 L130.17,132.58 L130.33,136.48 L130.49,140.29 L130.65,144.00 L130.81,147.60 L130.96,151.08 L131.12,154.44 L131.28,157.66 L131.44,160.74 L131.60,163.67 L131.76,166.45 L131.92,169.06 L132.08,171.49 L132.24,173.75 L132.39,175.83 L132.55,177.73 L132.71,179.42 L132.87,180.93 L133.03,182.23 L133.19,183.33 L133.35,184.23 L133.51,184.92 L133.67,185.39 L133.82,185.66 L133.98,185.72 L134.14,185.56 L134.30,185.19 L134.46,184.62 L134.62,183.83 L134.78,182.84 L134.94,181.65 L135.10,180.25 L135.25,178.66 L135.41,176.87 L135.57,174.90 L135.73,172.74 L135.89,170.40 L136.05,167.89 L136.21,165.21 L136.37,162.37 L136.53,159.38 L136.69,156.24 L136.84,152.97 L137.00,149.57 L137.16,146.04 L137.32,142.41 L137.48,138.67 L137.64,134.83 L137.80,130.91 L137.96,126.92 L138.12,122.86 L138.27,118.75 L138.43,114.60 L138.59,110.40 L138.75,106.19 L138.91,101.96 L139.07,97.73 L139.23,93.51 L139.39,89.30 L139.55,85.13 L139.70,80.99 L139.86,76.90 L140.02,72.87 L140.18,68.91 L140.34,65.02 L140.50,61.23 L140.66,57.54 L140.82,53.95 L140.98,50.47 L141.13,47.13 L141.29,43.91 L141.45,40.84 L141.61,37.91 L141.77,35.14 L141.93,32.53 L142.09,30.09 L142.25,27.82 L142.41,25.74 L142.56,23.84 L142.72,22.13 L142.88,20.61 L143.04,19.29 L143.20,18.18 L143.36,17.26 L143.52,16.56 L143.68,16.06 L143.84,15.77 L143.99,15.69 L144.15,15.82 L144.31,16.16 L144.47,16.71 L144.63,17.46 L144.79,18.42 L144.95,19.58 L145.11,20.95 L145.27,22.51 L145.42,24.26 L145.58,26.20 L145.74,28.32 L145.90,30.62 L146.06,33.10 L146.22,35.74 L146.38,38.54 L146.54,41.49 L146.70,44.59 L146.85,47.82 L147.01,51.19 L147.17,54.67 L147.33,58.27 L147.49,61.97 L147.65,65.77 L147.81,69.65 L147.97,73.60 L148.13,77.63 L148.28,81.70 L148.44,85.83 L148.60,89.98 L148.76,94.17 L148.92,98.36 L149.08,102.56 L149.24,106.76 L149.40,110.94 L149.56,115.09 L149.71,119.20 L149.87,123.27 L150.03,127.28 L150.19,131.22 L150.35,135.08 L150.51,138.86 L150.67,142.54 L150.83,146.12 L150.99,149.58 L151.14,152.92 L151.30,156.13 L151.46,159.20 L151.62,162.12 L151.78,164.89 L151.94,167.50 L152.10,169.94 L152.26,172.21 L152.42,174.30 L152.58,176.21 L152.73,177.93 L152.89,179.46 L153.05,180.79 L153.21,181.92 L153.37,182.85 L153.53,183.58 L153.69,184.10 L153.85,184.41 L154.01,184.51 L154.16,184.41 L154.32,184.10 L154.48,183.58 L154.64,182.85 L154.80,181.92 L154.96,180.79 L155.12,179.46 L155.28,177.93 L155.44,176.22 L155.59,174.31 L155.75,172.22 L155.91,169.96 L156.07,167.52 L156.23,164.92 L156.39,162.16 L156.55,159.24 L156.71,156.18 L156.87,152.99 L157.02,149.66 L157.18,146.21 L157.34,142.65 L157.50,138.99 L157.66,135.23 L157.82,131.39 L157.98,127.47 L158.14,123.48 L158.30,119.44 L158.45,115.35 L158.61,111.22 L158.77,107.07 L158.93,102.91 L159.09,98.73 L159.25,94.57 L159.41,90.42 L159.57,86.29 L159.73,82.20 L159.88,78.16 L160.04,74.17 L160.20,70.25 L160.36,66.40 L160.52,62.64 L160.68,58.97 L160.84,55.41 L161.00,51.96 L161.16,48.63 L161.31,45.42 L161.47,42.36 L161.63,39.44 L161.79,36.67 L161.95,34.06 L162.11,31.61 L162.27,29.34 L162.43,27.24 L162.59,25.33 L162.74,23.60 L162.90,22.06 L163.06,20.71 L163.22,19.56 L163.38,18.62 L163.54,17.87 L163.70,17.33 L163.86,17.00 L164.02,16.87 L164.17,16.95 L164.33,17.24 L164.49,17.73 L164.65,18.43 L164.81,19.33 L164.97,20.43 L165.13,21.73 L165.29,23.22 L165.45,24.90 L165.60,26.77 L165.76,28.83 L165.92,31.05 L166.08,33.45 L166.24,36.02 L166.40,38.75 L166.56,41.62 L166.72,44.64 L166.88,47.80 L167.03,51.09 L167.19,54.50 L167.35,58.02 L167.51,61.65 L167.67,65.37 L167.83,69.18 L167.99,73.07 L168.15,77.02 L168.31,81.03 L168.47,85.08 L168.62,89.17 L168.78,93.29 L168.94,97.43 L169.10,101.57 L169.26,105.71 L169.42,109.84 L169.58,113.94 L169.74,118.00 L169.90,122.03 L170.05,125.99 L170.21,129.90 L170.37,133.73 L170.53,137.47 L170.69,141.13 L170.85,144.68 L171.01,148.12 L171.17,151.44 L171.33,154.63 L171.48,157.69 L171.64,160.61 L171.80,163.38 L171.96,165.99 L172.12,168.44 L172.28,170.72 L172.44,172.82 L172.60,174.75 L172.76,176.49 L172.91,178.04 L173.07,179.40 L173.23,180.56 L173.39,181.52 L173.55,182.29 L173.71,182.85 L173.87,183.20 L174.03,183.35 L174.19,183.30 L174.34,183.03 L174.50,182.57 L174.66,181.90 L174.82,181.03 L174.98,179.96 L175.14,178.69 L175.30,177.23 L175.46,175.58 L175.62,173.75 L175.77,171.73 L175.93,169.54 L176.09,167.17 L176.25,164.64 L176.41,161.95 L176.57,159.11 L176.73,156.13 L176.89,153.01 L177.05,149.76 L177.20,146.38 L177.36,142.90 L177.52,139.31 L177.68,135.62 L177.84,131.85 L178.00,128.00 L178.16,124.08 L178.32,120.11 L178.48,116.08 L178.63,112.02 L178.79,107.93 L178.95,103.83 L179.11,99.71 L179.27,95.60 L179.43,91.50 L179.59,87.42 L179.75,83.38 L179.91,79.38 L180.06,75.43 L180.22,71.55 L180.38,67.74 L180.54,64.01 L180.70,60.37 L180.86,56.83 L181.02,53.40 L181.18,50.08 L181.34,46.89 L181.49,43.84 L181.65,40.92 L181.81,38.16 L181.97,35.55 L182.13,33.10 L182.29,30.81 L182.45,28.70 L182.61,26.77 L182.77,25.02 L182.93,23.46 L183.08,22.09 L183.24,20.91 L183.40,19.93 L183.56,19.15 L183.72,18.57 L183.88,18.19 L184.04,18.02 L184.20,18.05 L184.36,18.28 L184.51,18.72 L184.67,19.36 L184.83,20.20 L184.99,21.24 L185.15,22.48 L185.31,23.91 L185.47,25.53 L185.63,27.33 L185.79,29.31 L185.94,31.47 L186.10,33.80 L186.26,36.29 L186.42,38.94 L186.58,41.75 L186.74,44.69 L186.90,47.78 L187.06,51.00 L187.22,54.33 L187.37,57.78 L187.53,61.34 L187.69,64.99 L187.85,68.73 L188.01,72.54 L188.17,76.42 L188.33,80.37 L188.49,84.36 L188.65,88.39 L188.80,92.45 L188.96,96.52 L189.12,100.61 L189.28,104.70 L189.44,108.77 L189.60,112.82 L189.76,116.84 L189.92,120.82 L190.08,124.75 L190.23,128.61 L190.39,132.41 L190.55,136.12 L190.71,139.75 L190.87,143.28 L191.03,146.70 L191.19,150.00 L191.35,153.19 L191.51,156.24 L191.66,159.15 L191.82,161.91 L191.98,164.53 L192.14,166.98 L192.30,169.27 L192.46,171.38 L192.62,173.32 L192.78,175.08 L192.94,176.66 L193.09,178.04 L193.25,179.24 L193.41,180.23 L193.57,181.03 L193.73,181.63 L193.89,182.03 L194.05,182.22 L194.21,182.22 L194.37,182.01 L194.52,181.59 L194.68,180.98 L194.84,180.17 L195.00,179.16 L195.16,177.95 L195.32,176.56 L195.48,174.97 L195.64,173.20 L195.80,171.25 L195.95,169.13 L196.11,166.83 L196.27,164.38 L196.43,161.76 L196.59,158.99 L196.75,156.08 L196.91,153.03 L197.07,149.85 L197.23,146.55 L197.38,143.14 L197.54,139.62 L197.70,136.00 L197.86,132.30 L198.02,128.52 L198.18,124.67 L198.34,120.76 L198.50,116.80 L198.66,112.80 L198.81,108.77 L198.97,104.72 L199.13,100.66 L199.29,96.60 L199.45,92.55 L199.61,88.53 L199.77,84.53 L199.93,80.57 L200.09,76.66 L200.25,72.82 L200.40,69.04 L200.56,65.34 L200.72,61.72 L200.88,58.21 L201.04,54.80 L201.20,51.50 L201.36,48.32 L201.52,45.28 L201.68,42.37 L201.83,39.60 L201.99,36.99 L202.15,34.53 L202.31,32.24 L202.47,30.12 L202.63,28.17 L202.79,26.40 L202.95,24.82 L203.11,23.42 L203.26,22.21 L203.42,21.20 L203.58,20.38 L203.74,19.76 L203.90,19.35 L204.06,19.13 L204.22,19.11 L204.38,19.30 L204.54,19.68 L204.69,20.27 L204.85,21.05 L205.01,22.03 L205.17,23.21 L205.33,24.57 L205.49,26.13 L205.65,27.86 L205.81,29.78 L205.97,31.87 L206.12,34.13 L206.28,36.55 L206.44,39.13 L206.60,41.87 L206.76,44.74 L206.92,47.76 L207.08,50.90 L207.24,54.17 L207.40,57.54 L207.55,61.03 L207.71,64.61 L207.87,68.28 L208.03,72.03 L208.19,75.85 L208.35,79.72 L208.51,83.65 L208.67,87.62 L208.83,91.62 L208.98,95.64 L209.14,99.67 L209.30,103.71 L209.46,107.73 L209.62,111.73 L209.78,115.71 L209.94,119.65 L210.10,123.53 L210.26,127.37 L210.41,131.13 L210.57,134.81 L210.73,138.41 L210.89,141.92 L211.05,145.32 L211.21,148.61 L211.37,151.78 L211.53,154.82 L211.69,157.73 L211.84,160.49 L212.00,163.10 L212.16,165.56 L212.32,167.86 L212.48,169.99 L212.64,171.94 L212.80,173.72 L212.96,175.32 L213.12,176.73 L213.27,177.95 L213.43,178.98 L213.59,179.81 L213.75,180.45 L213.91,180.89 L214.07,181.13 L214.23,181.17 L214.39,181.01 L214.55,180.65 L214.70,180.09 L214.86,179.33 L215.02,178.38 L215.18,177.23 L215.34,175.90 L215.50,174.38 L215.66,172.67 L215.82,170.79 L215.98,168.74 L216.14,166.51 L216.29,164.12 L216.45,161.57 L216.61,158.88 L216.77,156.04 L216.93,153.06 L217.09,149.95 L217.25,146.72 L217.41,143.37 L217.57,139.92 L217.72,136.37 L217.88,132.74 L218.04,129.02 L218.20,125.24 L218.36,121.39 L218.52,117.49 L218.68,113.55 L218.84,109.58 L219.00,105.59 L219.15,101.59 L219.31,97.58 L219.47,93.58 L219.63,89.60 L219.79,85.65 L219.95,81.73 L220.11,77.86 L220.27,74.05 L220.43,70.30 L220.58,66.63 L220.74,63.04 L220.90,59.55 L221.06,56.16 L221.22,52.87 L221.38,49.71 L221.54,46.67 L221.70,43.77 L221.86,41.01 L222.01,38.39 L222.17,35.93 L222.33,33.63 L222.49,31.50 L222.65,29.53 L222.81,27.75 L222.97,26.14 L223.13,24.72 L223.29,23.48 L223.44,22.44 L223.60,21.58 L223.76,20.93 L223.92,20.47 L224.08,20.21 L224.24,20.15 L224.40,20.28 L224.56,20.62 L224.72,21.15 L224.87,21.88 L225.03,22.80 L225.19,23.92 L225.35,25.22 L225.51,26.71 L225.67,28.38 L225.83,30.23 L225.99,32.26 L226.15,34.45 L226.30,36.80 L226.46,39.32 L226.62,41.98 L226.78,44.79 L226.94,47.73 L227.10,50.80 L227.26,54.00 L227.42,57.31 L227.58,60.73 L227.73,64.24 L227.89,67.85 L228.05,71.53 L228.21,75.28 L228.37,79.10 L228.53,82.96 L228.69,86.87 L228.85,90.82 L229.01,94.78 L229.16,98.76 L229.32,102.74 L229.48,106.72 L229.64,110.67 L229.80,114.61 L229.96,118.50 L230.12,122.35 L230.28,126.15 L230.44,129.88 L230.59,133.54 L230.75,137.11 L230.91,140.60 L231.07,143.98 L231.23,147.25 L231.39,150.41 L231.55,153.44 L231.71,156.34 L231.87,159.10 L232.03,161.72 L232.18,164.18 L232.34,166.49 L232.50,168.63 L232.66,170.60 L232.82,172.40 L232.98,174.01 L233.14,175.45 L233.30,176.70 L233.46,177.76 L233.61,178.63 L233.77,179.30 L233.93,179.78 L234.09,180.06 L234.25,180.15 L234.41,180.04 L234.57,179.73 L234.73,179.22 L234.89,178.52 L235.04,177.62 L235.20,176.54 L235.36,175.26 L235.52,173.80 L235.68,172.16 L235.84,170.34 L236.00,168.35 L236.16,166.19 L236.32,163.87 L236.47,161.39 L236.63,158.77 L236.79,155.99 L236.95,153.08 L237.11,150.04 L237.27,146.88 L237.43,143.60 L237.59,140.22 L237.75,136.74 L237.90,133.17 L238.06,129.52 L238.22,125.80 L238.38,122.01 L238.54,118.17 L238.70,114.29 L238.86,110.38 L239.02,106.44 L239.18,102.49 L239.33,98.53 L239.49,94.58 L239.65,90.64 L239.81,86.73 L239.97,82.86 L240.13,79.02 L240.29,75.25 L240.45,71.53 L240.61,67.89 L240.76,64.33 L240.92,60.85 L241.08,57.48 L241.24,54.21 L241.40,51.06 L241.56,48.03 L241.72,45.14 L241.88,42.38 L242.04,39.76 L242.19,37.29 L242.35,34.98 L242.51,32.84 L242.67,30.86 L242.83,29.05 L242.99,27.42 L243.15,25.98 L243.31,24.71 L243.47,23.64 L243.62,22.75 L243.78,22.06 L243.94,21.56 L244.10,21.26 L244.26,21.15 L244.42,21.24 L244.58,21.52 L244.74,22.01 L244.90,22.68 L245.05,23.55 L245.21,24.60 L245.37,25.85 L245.53,27.28 L245.69,28.89 L245.85,30.67 L246.01,32.63 L246.17,34.76 L246.33,37.05 L246.48,39.49 L246.64,42.09 L246.80,44.83 L246.96,47.70 L247.12,50.71 L247.28,53.84 L247.44,57.08 L247.60,60.43 L247.76,63.88 L247.92,67.42 L248.07,71.04 L248.23,74.73 L248.39,78.49 L248.55,82.29 L248.71,86.14 L248.87,90.03 L249.03,93.94 L249.19,97.87 L249.35,101.80 L249.50,105.73 L249.66,109.64 L249.82,113.53 L249.98,117.39 L250.14,121.20 L250.30,124.97 L250.46,128.67 L250.62,132.29 L250.78,135.84 L250.93,139.31 L251.09,142.67 L251.25,145.93 L251.41,149.07 L251.57,152.10 L251.73,154.99 L251.89,157.75 L252.05,160.37 L252.21,162.84 L252.36,165.15 L252.52,167.30 L252.68,169.29 L252.84,171.11 L253.00,172.75 L253.16,174.21 L253.32,175.48 L253.48,176.57 L253.64,177.48 L253.79,178.19 L253.95,178.70 L254.11,179.03 L254.27,179.16 L254.43,179.09 L254.59,178.83 L254.75,178.38 L254.91,177.73 L255.07,176.89 L255.22,175.86 L255.38,174.64 L255.54,173.25 L255.70,171.67 L255.86,169.91 L256.02,167.98 L256.18,165.89 L256.34,163.63 L256.50,161.22 L256.65,158.66 L256.81,155.95 L256.97,153.11 L257.13,150.14 L257.29,147.04 L257.45,143.83 L257.61,140.51 L257.77,137.09 L257.93,133.59 L258.08,130.00 L258.24,126.34 L258.40,122.62 L258.56,118.84 L258.72,115.01 L258.88,111.15 L259.04,107.27 L259.20,103.37 L259.36,99.46 L259.51,95.56 L259.67,91.66 L259.83,87.79 L259.99,83.96 L260.15,80.16 L260.31,76.42 L260.47,72.73 L260.63,69.11 L260.79,65.58 L260.94,62.13 L261.10,58.77 L261.26,55.52 L261.42,52.38 L261.58,49.36 L261.74,46.47 L261.90,43.71 L262.06,41.09 L262.22,38.62 L262.38,36.30 L262.53,34.14 L262.69,32.15 L262.85,30.33 L263.01,28.68 L263.17,27.20 L263.33,25.91 L263.49,24.81 L263.65,23.89 L263.81,23.16 L263.96,22.62 L264.12,22.28 L264.28,22.13 L264.44,22.17 L264.60,22.41 L264.76,22.84 L264.92,23.46 L265.08,24.27 L265.24,25.27 L265.39,26.46 L265.55,27.83 L265.71,29.38 L265.87,31.10 L266.03,33.00 L266.19,35.06 L266.35,37.28 L266.51,39.66 L266.67,42.19 L266.82,44.87 L266.98,47.68 L267.14,50.62 L267.30,53.68 L267.46,56.86 L267.62,60.15 L267.78,63.53 L267.94,67.01 L268.10,70.56 L268.25,74.19 L268.41,77.89 L268.57,81.64 L268.73,85.43 L268.89,89.27 L269.05,93.12 L269.21,97.00 L269.37,100.88 L269.53,104.77 L269.68,108.64 L269.84,112.48 L270.00,116.30 L270.16,120.08 L270.32,123.81 L270.48,127.48 L270.64,131.08 L270.80,134.61 L270.96,138.05 L271.11,141.40 L271.27,144.64 L271.43,147.77 L271.59,150.79 L271.75,153.68 L271.91,156.44 L272.07,159.06 L272.23,161.53 L272.39,163.85 L272.54,166.01 L272.70,168.02 L272.86,169.85 L273.02,171.51 L273.18,172.99 L273.34,174.30 L273.50,175.42 L273.66,176.35 L273.82,177.10 L273.97,177.65 L274.13,178.02 L274.29,178.19 L274.45,178.17 L274.61,177.96 L274.77,177.55 L274.93,176.96 L275.09,176.17 L275.25,175.20 L275.40,174.04 L275.56,172.70 L275.72,171.18 L275.88,169.49 L276.04,167.62 L276.20,165.59 L276.36,163.40 L276.52,161.05 L276.68,158.55 L276.83,155.91 L276.99,153.14 L277.15,150.23 L277.31,147.20 L277.47,144.05 L277.63,140.80 L277.79,137.44 L277.95,134.00 L278.11,130.47 L278.26,126.87 L278.42,123.21 L278.58,119.48 L278.74,115.72 L278.90,111.91 L279.06,108.08 L279.22,104.23 L279.38,100.37 L279.54,96.51 L279.70,92.66 L279.85,88.83 L280.01,85.03 L280.17,81.27 L280.33,77.56 L280.49,73.90 L280.65,70.31 L280.81,66.80 L280.97,63.37 L281.13,60.03 L281.28,56.79 L281.44,53.67 L281.60,50.65 L281.76,47.76 L281.92,45.01 L282.08,42.39 L282.24,39.91 L282.40,37.59 L282.56,35.42 L282.71,33.41 L282.87,31.57 L283.03,29.90 L283.19,28.40 L283.35,27.09 L283.51,25.95 L283.67,25.00 L283.83,24.24 L283.99,23.66 L284.14,23.28 L284.30,23.08 L284.46,23.08 L284.62,23.27 L284.78,23.65 L284.94,24.22 L285.10,24.98 L285.26,25.92 L285.42,27.05 L285.57,28.37 L285.73,29.86 L285.89,31.52 L286.05,33.35 L286.21,35.35 L286.37,37.51 L286.53,39.83 L286.69,42.30 L286.85,44.90 L287.00,47.65 L287.16,50.53 L287.32,53.53 L287.48,56.64 L287.64,59.86 L287.80,63.19 L287.96,66.60 L288.12,70.10 L288.28,73.67 L288.43,77.30 L288.59,81.00 L288.75,84.74 L288.91,88.52 L289.07,92.33 L289.23,96.15 L289.39,99.99 L289.55,103.83 L289.71,107.65 L289.86,111.46 L290.02,115.24 L290.18,118.99 L290.34,122.68 L290.50,126.32 L290.66,129.90 L290.82,133.40 L290.98,136.82 L291.14,140.15 L291.29,143.38 L291.45,146.50 L291.61,149.51 L291.77,152.40 L291.93,155.15 L292.09,157.78 L292.25,160.25 L292.41,162.58 L292.57,164.76 L292.72,166.77 L292.88,168.62 L293.04,170.30 L293.20,171.81 L293.36,173.14 L293.52,174.29 L293.68,175.26 L293.84,176.04 L294.00,176.63 L294.15,177.04 L294.31,177.25 L294.47,177.27 L294.63,177.11 L294.79,176.75 L294.95,176.21 L295.11,175.47 L295.27,174.56 L295.43,173.45 L295.59,172.17 L295.74,170.71 L295.90,169.08 L296.06,167.27 L296.22,165.30 L296.38,163.17 L296.54,160.89 L296.70,158.45 L296.86,155.88 L297.02,153.16 L297.17,150.32 L297.33,147.35 L297.49,144.27 L297.65,141.08 L297.81,137.78 L297.97,134.40 L298.13,130.93 L298.29,127.39 L298.45,123.78 L298.60,120.12 L298.76,116.40 L298.92,112.65 L299.08,108.87 L299.24,105.06 L299.40,101.25 L299.56,97.44 L299.72,93.63 L299.88,89.84 L300.03,86.08 L300.19,82.35 L300.35,78.67 L300.51,75.04 L300.67,71.48 L300.83,67.99 L300.99,64.58 L301.15,61.26 L301.31,58.04 L301.46,54.92 L301.62,51.92 L301.78,49.03 L301.94,46.28 L302.10,43.65 L302.26,41.17 L302.42,38.84 L302.58,36.66 L302.74,34.64 L302.89,32.78 L303.05,31.09 L303.21,29.57 L303.37,28.23 L303.53,27.06 L303.69,26.08 L303.85,25.28 L304.01,24.67 L304.17,24.25 L304.32,24.01 L304.48,23.97 L304.64,24.11 L304.80,24.44 L304.96,24.96 L305.12,25.67 L305.28,26.56 L305.44,27.64 L305.60,28.89 L305.75,30.32 L305.91,31.93 L306.07,33.70 L306.23,35.64 L306.39,37.74 L306.55,39.99 L306.71,42.39 L306.87,44.94 L307.03,47.62 L307.18,50.44 L307.34,53.37 L307.50,56.43 L307.66,59.59 L307.82,62.85 L307.98,66.20 L308.14,69.64 L308.30,73.15 L308.46,76.73 L308.61,80.37 L308.77,84.06 L308.93,87.79 L309.09,91.54 L309.25,95.32 L309.41,99.11 L309.57,102.91 L309.73,106.69 L309.89,110.46 L310.04,114.21 L310.20,117.92 L310.36,121.58 L310.52,125.20 L310.68,128.75 L310.84,132.22 L311.00,135.62 L311.16,138.94 L311.32,142.15 L311.48,145.26 L311.63,148.26 L311.79,151.15 L311.95,153.90 L312.11,156.52 L312.27,159.01 L312.43,161.34 L312.59,163.53 L312.75,165.56 L312.91,167.42 L313.06,169.12 L313.22,170.65 L313.38,172.01 L313.54,173.19 L313.70,174.19 L313.86,175.00 L314.02,175.63 L314.18,176.07 L314.34,176.33 L314.49,176.40 L314.65,176.28 L314.81,175.97 L314.97,175.47 L315.13,174.79 L315.29,173.93 L315.45,172.88 L315.61,171.65 L315.77,170.25 L315.92,168.67 L316.08,166.93 L316.24,165.02 L316.40,162.95 L316.56,160.73 L316.72,158.36 L316.88,155.84 L317.04,153.19 L317.20,150.41 L317.35,147.50 L317.51,144.48 L317.67,141.35 L317.83,138.12 L317.99,134.79 L318.15,131.38 L318.31,127.90 L318.47,124.35 L318.63,120.73 L318.78,117.07 L318.94,113.37 L319.10,109.64 L319.26,105.88 L319.42,102.12 L319.58,98.34 L319.74,94.58 L319.90,90.83 L320.06,87.10 L320.21,83.41 L320.37,79.76 L320.53,76.16 L320.69,72.62 L320.85,69.15 L321.01,65.76 L321.17,62.46 L321.33,59.25 L321.49,56.14 L321.64,53.15 L321.80,50.27 L321.96,47.51 L322.12,44.89 L322.28,42.41 L322.44,40.07 L322.60,37.88 L322.76,35.84 L322.92,33.97 L323.07,32.25 L323.23,30.71 L323.39,29.34 L323.55,28.15 L323.71,27.14 L323.87,26.31 L324.03,25.66 L324.19,25.20 L324.35,24.92 L324.50,24.83 L324.66,24.93 L324.82,25.22 L324.98,25.69 L325.14,26.34 L325.30,27.18 L325.46,28.20 L325.62,29.40 L325.78,30.78 L325.94,32.32 L326.09,34.04 L326.25,35.92 L326.41,37.96 L326.57,40.15 L326.73,42.49 L326.89,44.98 L327.05,47.60 L327.21,50.35 L327.37,53.23 L327.52,56.22 L327.68,59.32 L327.84,62.52 L328.00,65.82 L328.16,69.20 L328.32,72.65 L328.48,76.18 L328.64,79.76 L328.80,83.40 L328.95,87.07 L329.11,90.78 L329.27,94.51 L329.43,98.26 L329.59,102.01 L329.75,105.76 L329.91,109.49 L330.07,113.20 L330.23,116.87 L330.38,120.51 L330.54,124.09 L330.70,127.62 L330.86,131.07 L331.02,134.45 L331.18,137.75 L331.34,140.95 L331.50,144.05 L331.66,147.05 L331.81,149.92 L331.97,152.68 L332.13,155.30 L332.29,157.79 L332.45,160.13 L332.61,162.33 L332.77,164.37 L332.93,166.25 L333.09,167.97 L333.24,169.53 L333.40,170.91 L333.56,172.11 L333.72,173.14 L333.88,173.99 L334.04,174.65 L334.20,175.14 L334.36,175.43 L334.52,175.54 L334.67,175.47 L334.83,175.20 L334.99,174.76 L335.15,174.13 L335.31,173.31 L335.47,172.32 L335.63,171.15 L335.79,169.80 L335.95,168.28 L336.10,166.59 L336.26,164.74 L336.42,162.74 L336.58,160.57 L336.74,158.26 L336.90,155.81 L337.06,153.21 L337.22,150.49 L337.38,147.65 L337.53,144.68 L337.69,141.61 L337.85,138.44 L338.01,135.17 L338.17,131.82 L338.33,128.39 L338.49,124.90 L338.65,121.34 L338.81,117.73 L338.96,114.08 L339.12,110.39 L339.28,106.68 L339.44,102.96 L339.60,99.23 L339.76,95.51 L339.92,91.79 L340.08,88.10 L340.24,84.44 L340.39,80.82 L340.55,77.25 L340.71,73.74 L340.87,70.29 L341.03,66.92 L341.19,63.63 L341.35,60.44 L341.51,57.34 L341.67,54.35 L341.82,51.48 L341.98,48.73 L342.14,46.10 L342.30,43.61 L342.46,41.26 L342.62,39.06 L342.78,37.01 L342.94,35.12 L343.10,33.39 L343.26,31.83 L343.41,30.44 L343.57,29.22 L343.73,28.17 L343.89,27.31 L344.05,26.63 L344.21,26.13 L344.37,25.81 L344.53,25.68 L344.69,25.73 L344.84,25.97 L345.00,26.40 L345.16,27.00 L345.32,27.79 L345.48,28.76 L345.64,29.90 L345.80,31.22 L345.96,32.71 L346.12,34.37 L346.27,36.19 L346.43,38.17 L346.59,40.30 L346.75,42.59 L346.91,45.01 L347.07,47.57 L347.23,50.27 L347.39,53.08 L347.55,56.01 L347.70,59.06 L347.86,62.20 L348.02,65.44 L348.18,68.76 L348.34,72.16 L348.50,75.63 L348.66,79.17 L348.82,82.75 L348.98,86.38 L349.13,90.04 L349.29,93.72 L349.45,97.42 L349.61,101.13 L349.77,104.84 L349.93,108.53 L350.09,112.21 L350.25,115.85 L350.41,119.46 L350.56,123.01 L350.72,126.51 L350.88,129.95 L351.04,133.31 L351.20,136.59 L351.36,139.78 L351.52,142.87 L351.68,145.85 L351.84,148.73 L351.99,151.48 L352.15,154.10 L352.31,156.59 L352.47,158.95 L352.63,161.15 L352.79,163.21 L352.95,165.11 L353.11,166.85 L353.27,168.42 L353.42,169.83 L353.58,171.06 L353.74,172.12 L353.90,173.00 L354.06,173.70 L354.22,174.22 L354.38,174.55 L354.54,174.70 L354.70,174.67 L354.85,174.46 L355.01,174.06 L355.17,173.47 L355.33,172.71 L355.49,171.77 L355.65,170.65 L355.81,169.36 L355.97,167.90 L356.13,166.27 L356.28,164.47 L356.44,162.52 L356.60,160.42 L356.76,158.17 L356.92,155.77 L357.08,153.24 L357.24,150.58 L357.40,147.79 L357.56,144.89 L357.71,141.87 L357.87,138.76 L358.03,135.55 L358.19,132.25 L358.35,128.88 L358.51,125.43 L358.67,121.93 L358.83,118.37 L358.99,114.77 L359.15,111.13 L359.30,107.47 L359.46,103.79 L359.62,100.10 L359.78,96.41 L359.94,92.74 L360.10,89.08 L360.26,85.45 L360.42,81.86 L360.58,78.32 L360.73,74.83 L360.89,71.41 L361.05,68.05 L361.21,64.78 L361.37,61.60 L361.53,58.51 L361.69,55.53 L361.85,52.66 L362.01,49.91 L362.16,47.29 L362.32,44.79 L362.48,42.44 L362.64,40.23 L362.80,38.16 L362.96,36.26 L363.12,34.51 L363.28,32.92 L363.44,31.51 L363.59,30.26 L363.75,29.19 L363.91,28.29 L364.07,27.57 L364.23,27.04 L364.39,26.68 L364.55,26.51 L364.71,26.52 L364.87,26.71 L365.02,27.09 L365.18,27.65 L365.34,28.38 L365.50,29.30 L365.66,30.39 L365.82,31.66 L365.98,33.09 L366.14,34.70 L366.30,36.46 L366.45,38.38 L366.61,40.46 L366.77,42.68 L366.93,45.05 L367.09,47.55 L367.25,50.18 L367.41,52.94 L367.57,55.81 L367.73,58.80 L367.88,61.89 L368.04,65.07 L368.20,68.34 L368.36,71.68 L368.52,75.10 L368.68,78.58 L368.84,82.12 L369.00,85.69 L369.16,89.31 L369.31,92.95 L369.47,96.61 L369.63,100.27 L369.79,103.94 L369.95,107.60 L370.11,111.24 L370.27,114.85 L370.43,118.43 L370.59,121.96 L370.74,125.43 L370.90,128.85 L371.06,132.19 L371.22,135.45 L371.38,138.63 L371.54,141.71 L371.70,144.69 L371.86,147.55 L372.02,150.30 L372.17,152.93 L372.33,155.43 L372.49,157.79 L372.65,160.00 L372.81,162.07 L372.97,163.99 L373.13,165.74 L373.29,167.34 L373.45,168.77 L373.61,170.03 L373.76,171.12 L373.92,172.03 L374.08,172.76 L374.24,173.32 L374.40,173.69 L374.56,173.88 L374.72,173.89 L374.88,173.72 L375.04,173.37 L375.19,172.83 L375.35,172.12 L375.51,171.23 L375.67,170.17 L375.83,168.93 L375.99,167.52 L376.15,165.94 L376.31,164.21 L376.47,162.31 L376.62,160.27 L376.78,158.07 L376.94,155.74 L377.10,153.26 L377.26,150.66 L377.42,147.93 L377.58,145.08 L377.74,142.13 L377.90,139.07 L378.05,135.91 L378.21,132.67 L378.37,129.35 L378.53,125.96 L378.69,122.51 L378.85,119.00 L379.01,115.44 L379.17,111.85 L379.33,108.23 L379.48,104.59 L379.64,100.95 L379.80,97.30 L379.96,93.66 L380.12,90.04 L380.28,86.44 L380.44,82.88 L380.60,79.36 L380.76,75.90 L380.91,72.50 L381.07,69.16 L381.23,65.91 L381.39,62.74 L381.55,59.66" stroke="#e19c24" stroke-width="1.75"/>
<path d="M63.75,10.40 L63.91,10.55 L64.07,10.92 L64.23,11.51 L64.39,12.33 L64.54,13.36 L64.70,14.61 L64.86,16.08 L65.02,17.75 L65.18,19.63 L65.34,21.71 L65.50,23.99 L65.66,26.45 L65.82,29.10 L65.97,31.92 L66.13,34.92 L66.29,38.07 L66.45,41.38 L66.61,44.83 L66.77,48.42 L66.93,52.13 L67.09,55.97 L67.25,59.91 L67.40,63.95 L67.56,68.08 L67.72,72.28 L67.88,76.56 L68.04,80.89 L68.20,85.26 L68.36,89.67 L68.52,94.10 L68.68,98.55 L68.83,103.00 L68.99,107.43 L69.15,111.85 L69.31,116.23 L69.47,120.58 L69.63,124.86 L69.79,129.09 L69.95,133.24 L70.11,137.30 L70.26,141.27 L70.42,145.13 L70.58,148.88 L70.74,152.51 L70.90,156.00 L71.06,159.35 L71.22,162.55 L71.38,165.60 L71.54,168.47 L71.69,171.18 L71.85,173.71 L72.01,176.05 L72.17,178.20 L72.33,180.16 L72.49,181.91 L72.65,183.46 L72.81,184.80 L72.97,185.93 L73.13,186.85 L73.28,187.55 L73.44,188.03 L73.60,188.29 L73.76,188.33 L73.92,188.15 L74.08,187.75 L74.24,187.14 L74.40,186.30 L74.56,185.26 L74.71,184.00 L74.87,182.53 L75.03,180.86 L75.19,179.00 L75.35,176.93 L75.51,174.68 L75.67,172.24 L75.83,169.62 L75.99,166.84 L76.14,163.89 L76.30,160.78 L76.46,157.52 L76.62,154.13 L76.78,150.60 L76.94,146.95 L77.10,143.18 L77.26,139.31 L77.42,135.35 L77.57,131.30 L77.73,127.18 L77.89,122.99 L78.05,118.76 L78.21,114.47 L78.37,110.16 L78.53,105.82 L78.69,101.48 L78.85,97.13 L79.00,92.80 L79.16,88.48 L79.32,84.21 L79.48,79.97 L79.64,75.79 L79.80,71.67 L79.96,67.63 L80.12,63.67 L80.28,59.81 L80.43,56.05 L80.59,52.40 L80.75,48.88 L80.91,45.49 L81.07,42.23 L81.23,39.13 L81.39,36.18 L81.55,33.39 L81.71,30.78 L81.86,28.34 L82.02,26.08 L82.18,24.00 L82.34,22.12 L82.50,20.44 L82.66,18.96 L82.82,17.68 L82.98,16.61 L83.14,15.75 L83.29,15.10 L83.45,14.67 L83.61,14.45 L83.77,14.44 L83.93,14.65 L84.09,15.08 L84.25,15.71 L84.41,16.56 L84.57,17.62 L84.72,18.88 L84.88,20.35 L85.04,22.01 L85.20,23.87 L85.36,25.92 L85.52,28.16 L85.68,30.57 L85.84,33.15 L86.00,35.91 L86.15,38.82 L86.31,41.88 L86.47,45.09 L86.63,48.43 L86.79,51.90 L86.95,55.49 L87.11,59.19 L87.27,62.99 L87.43,66.88 L87.59,70.85 L87.74,74.89 L87.90,79.00 L88.06,83.15 L88.22,87.34 L88.38,91.57 L88.54,95.81 L88.70,100.06 L88.86,104.31 L89.02,108.55 L89.17,112.76 L89.33,116.94 L89.49,121.08 L89.65,125.16 L89.81,129.17 L89.97,133.11 L90.13,136.97 L90.29,140.73 L90.45,144.39 L90.60,147.94 L90.76,151.37 L90.92,154.66 L91.08,157.82 L91.24,160.83 L91.40,163.69 L91.56,166.39 L91.72,168.92 L91.88,171.28 L92.03,173.46 L92.19,175.46 L92.35,177.27 L92.51,178.88 L92.67,180.30 L92.83,181.52 L92.99,182.53 L93.15,183.34 L93.31,183.94 L93.46,184.33 L93.62,184.51 L93.78,184.48 L93.94,184.24 L94.10,183.79 L94.26,183.13 L94.42,182.27 L94.58,181.20 L94.74,179.93 L94.89,178.47 L95.05,176.81 L95.21,174.96 L95.37,172.92 L95.53,170.71 L95.69,168.32 L95.85,165.76 L96.01,163.04 L96.17,160.17 L96.32,157.15 L96.48,153.99 L96.64,150.69 L96.80,147.28 L96.96,143.75 L97.12,140.11 L97.28,136.38 L97.44,132.56 L97.60,128.66 L97.75,124.69 L97.91,120.67 L98.07,116.59 L98.23,112.48 L98.39,108.35 L98.55,104.19 L98.71,100.03 L98.87,95.87 L99.03,91.73 L99.18,87.61 L99.34,83.53 L99.50,79.49 L99.66,75.50 L99.82,71.58 L99.98,67.74 L100.14,63.98 L100.30,60.31 L100.46,56.75 L100.61,53.30 L100.77,49.96 L100.93,46.76 L101.09,43.69 L101.25,40.76 L101.41,37.99 L101.57,35.37 L101.73,32.92 L101.89,30.64 L102.04,28.54 L102.20,26.61 L102.36,24.87 L102.52,23.32 L102.68,21.97 L102.84,20.81 L103.00,19.85 L103.16,19.09 L103.32,18.54 L103.47,18.19 L103.63,18.05 L103.79,18.11 L103.95,18.38 L104.11,18.85 L104.27,19.53 L104.43,20.41 L104.59,21.49 L104.75,22.76 L104.91,24.23 L105.06,25.88 L105.22,27.72 L105.38,29.75 L105.54,31.94 L105.70,34.31 L105.86,36.84 L106.02,39.53 L106.18,42.37 L106.34,45.35 L106.49,48.46 L106.65,51.71 L106.81,55.07 L106.97,58.55 L107.13,62.12 L107.29,65.79 L107.45,69.55 L107.61,73.38 L107.77,77.27 L107.92,81.22 L108.08,85.22 L108.24,89.25 L108.40,93.30 L108.56,97.37 L108.72,101.45 L108.88,105.52 L109.04,109.57 L109.20,113.60 L109.35,117.59 L109.51,121.54 L109.67,125.43 L109.83,129.26 L109.99,133.01 L110.15,136.68 L110.31,140.25 L110.47,143.73 L110.63,147.09 L110.78,150.34 L110.94,153.45 L111.10,156.44 L111.26,159.28 L111.42,161.97 L111.58,164.50 L111.74,166.88 L111.90,169.09 L112.06,171.12 L112.21,172.97 L112.37,174.65 L112.53,176.13 L112.69,177.43 L112.85,178.53 L113.01,179.44 L113.17,180.15 L113.33,180.66 L113.49,180.97 L113.64,181.07 L113.80,180.98 L113.96,180.68 L114.12,180.19 L114.28,179.49 L114.44,178.60 L114.60,177.51 L114.76,176.23 L114.92,174.76 L115.07,173.11 L115.23,171.28 L115.39,169.27 L115.55,167.09 L115.71,164.74 L115.87,162.24 L116.03,159.58 L116.19,156.77 L116.35,153.83 L116.50,150.76 L116.66,147.56 L116.82,144.24 L116.98,140.82 L117.14,137.30 L117.30,133.69 L117.46,130.00 L117.62,126.24 L117.78,122.41 L117.93,118.54 L118.09,114.62 L118.25,110.66 L118.41,106.69 L118.57,102.70 L118.73,98.70 L118.89,94.72 L119.05,90.75 L119.21,86.81 L119.37,82.90 L119.52,79.04 L119.68,75.24 L119.84,71.50 L120.00,67.83 L120.16,64.25 L120.32,60.77 L120.48,57.38 L120.64,54.10 L120.80,50.94 L120.95,47.91 L121.11,45.01 L121.27,42.25 L121.43,39.64 L121.59,37.18 L121.75,34.88 L121.91,32.74 L122.07,30.78 L122.23,28.99 L122.38,27.38 L122.54,25.95 L122.70,24.71 L122.86,23.66 L123.02,22.80 L123.18,22.14 L123.34,21.68 L123.50,21.41 L123.66,21.33 L123.81,21.46 L123.97,21.78 L124.13,22.30 L124.29,23.01 L124.45,23.92 L124.61,25.02 L124.77,26.30 L124.93,27.77 L125.09,29.42 L125.24,31.25 L125.40,33.25 L125.56,35.41 L125.72,37.73 L125.88,40.21 L126.04,42.84 L126.20,45.62 L126.36,48.52 L126.52,51.56 L126.67,54.71 L126.83,57.98 L126.99,61.35 L127.15,64.81 L127.31,68.37 L127.47,72.00 L127.63,75.70 L127.79,79.46 L127.95,83.26 L128.10,87.11 L128.26,90.99 L128.42,94.89 L128.58,98.81 L128.74,102.72 L128.90,106.63 L129.06,110.51 L129.22,114.37 L129.38,118.20 L129.53,121.97 L129.69,125.69 L129.85,129.35 L130.01,132.93 L130.17,136.42 L130.33,139.83 L130.49,143.13 L130.65,146.32 L130.81,149.40 L130.96,152.35 L131.12,155.18 L131.28,157.86 L131.44,160.40 L131.60,162.78 L131.76,165.01 L131.92,167.08 L132.08,168.98 L132.24,170.70 L132.39,172.25 L132.55,173.62 L132.71,174.80 L132.87,175.80 L133.03,176.61 L133.19,177.23 L133.35,177.66 L133.51,177.89 L133.67,177.93 L133.82,177.77 L133.98,177.42 L134.14,176.88 L134.30,176.15 L134.46,175.23 L134.62,174.13 L134.78,172.84 L134.94,171.37 L135.10,169.72 L135.25,167.90 L135.41,165.91 L135.57,163.77 L135.73,161.46 L135.89,159.00 L136.05,156.40 L136.21,153.66 L136.37,150.79 L136.53,147.79 L136.69,144.68 L136.84,141.46 L137.00,138.14 L137.16,134.72 L137.32,131.22 L137.48,127.65 L137.64,124.01 L137.80,120.32 L137.96,116.58 L138.12,112.79 L138.27,108.98 L138.43,105.16 L138.59,101.32 L138.75,97.48 L138.91,93.65 L139.07,89.84 L139.23,86.06 L139.39,82.32 L139.55,78.62 L139.70,74.98 L139.86,71.41 L140.02,67.91 L140.18,64.50 L140.34,61.17 L140.50,57.95 L140.66,54.84 L140.82,51.84 L140.98,48.96 L141.13,46.21 L141.29,43.60 L141.45,41.14 L141.61,38.82 L141.77,36.66 L141.93,34.66 L142.09,32.83 L142.25,31.16 L142.41,29.67 L142.56,28.36 L142.72,27.23 L142.88,26.28 L143.04,25.51 L143.20,24.94 L143.36,24.55 L143.52,24.36 L143.68,24.35 L143.84,24.53 L143.99,24.91 L144.15,25.47 L144.31,26.21 L144.47,27.15 L144.63,28.26 L144.79,29.56 L144.95,31.03 L145.11,32.67 L145.27,34.49 L145.42,36.46 L145.58,38.60 L145.74,40.88 L145.90,43.32 L146.06,45.89 L146.22,48.60 L146.38,51.44 L146.54,54.40 L146.70,57.47 L146.85,60.65 L147.01,63.93 L147.17,67.29 L147.33,70.74 L147.49,74.25 L147.65,77.83 L147.81,81.47 L147.97,85.15 L148.13,88.86 L148.28,92.61 L148.44,96.37 L148.60,100.13 L148.76,103.90 L148.92,107.65 L149.08,111.39 L149.24,115.09 L149.40,118.76 L149.56,122.38 L149.71,125.94 L149.87,129.43 L150.03,132.85 L150.19,136.19 L150.35,139.44 L150.51,142.58 L150.67,145.62 L150.83,148.55 L150.99,151.35 L151.14,154.02 L151.30,156.56 L151.46,158.96 L151.62,161.20 L151.78,163.30 L151.94,165.24 L152.10,167.01 L152.26,168.62 L152.42,170.05 L152.58,171.31 L152.73,172.39 L152.89,173.29 L153.05,174.01 L153.21,174.55 L153.37,174.89 L153.53,175.06 L153.69,175.03 L153.85,174.82 L154.01,174.43 L154.16,173.84 L154.32,173.08 L154.48,172.13 L154.64,171.01 L154.80,169.71 L154.96,168.24 L155.12,166.60 L155.28,164.79 L155.44,162.82 L155.59,160.70 L155.75,158.43 L155.91,156.02 L156.07,153.47 L156.23,150.79 L156.39,147.98 L156.55,145.06 L156.71,142.02 L156.87,138.89 L157.02,135.66 L157.18,132.34 L157.34,128.95 L157.50,125.48 L157.66,121.96 L157.82,118.38 L157.98,114.76 L158.14,111.11 L158.30,107.43 L158.45,103.74 L158.61,100.04 L158.77,96.34 L158.93,92.66 L159.09,89.00 L159.25,85.37 L159.41,81.77 L159.57,78.23 L159.73,74.74 L159.88,71.32 L160.04,67.98 L160.20,64.72 L160.36,61.54 L160.52,58.47 L160.68,55.51 L160.84,52.65 L161.00,49.92 L161.16,47.32 L161.31,44.85 L161.47,42.52 L161.63,40.34 L161.79,38.31 L161.95,36.43 L162.11,34.72 L162.27,33.17 L162.43,31.79 L162.59,30.58 L162.74,29.54 L162.90,28.69 L163.06,28.01 L163.22,27.52 L163.38,27.21 L163.54,27.08 L163.70,27.13 L163.86,27.37 L164.02,27.79 L164.17,28.39 L164.33,29.17 L164.49,30.13 L164.65,31.26 L164.81,32.56 L164.97,34.04 L165.13,35.68 L165.29,37.48 L165.45,39.43 L165.60,41.54 L165.76,43.79 L165.92,46.19 L166.08,48.71 L166.24,51.37 L166.40,54.14 L166.56,57.03 L166.72,60.03 L166.88,63.13 L167.03,66.31 L167.19,69.58 L167.35,72.93 L167.51,76.34 L167.67,79.81 L167.83,83.33 L167.99,86.89 L168.15,90.49 L168.31,94.10 L168.47,97.73 L168.62,101.36 L168.78,104.99 L168.94,108.61 L169.10,112.20 L169.26,115.76 L169.42,119.29 L169.58,122.76 L169.74,126.17 L169.90,129.52 L170.05,132.79 L170.21,135.98 L170.37,139.08 L170.53,142.08 L170.69,144.98 L170.85,147.76 L171.01,150.42 L171.17,152.96 L171.33,155.36 L171.48,157.63 L171.64,159.75 L171.80,161.72 L171.96,163.54 L172.12,165.19 L172.28,166.69 L172.44,168.02 L172.60,169.18 L172.76,170.16 L172.91,170.97 L173.07,171.61 L173.23,172.06 L173.39,172.34 L173.55,172.44 L173.71,172.36 L173.87,172.09 L174.03,171.65 L174.19,171.03 L174.34,170.24 L174.50,169.27 L174.66,168.13 L174.82,166.82 L174.98,165.34 L175.14,163.70 L175.30,161.91 L175.46,159.96 L175.62,157.87 L175.77,155.63 L175.93,153.26 L176.09,150.75 L176.25,148.13 L176.41,145.38 L176.57,142.52 L176.73,139.56 L176.89,136.50 L177.05,133.36 L177.20,130.13 L177.36,126.83 L177.52,123.47 L177.68,120.05 L177.84,116.58 L178.00,113.08 L178.16,109.54 L178.32,105.99 L178.48,102.42 L178.63,98.85 L178.79,95.29 L178.95,91.74 L179.11,88.21 L179.27,84.72 L179.43,81.26 L179.59,77.86 L179.75,74.52 L179.91,71.24 L180.06,68.03 L180.22,64.91 L180.38,61.88 L180.54,58.95 L180.70,56.12 L180.86,53.41 L181.02,50.81 L181.18,48.34 L181.34,46.00 L181.49,43.80 L181.65,41.74 L181.81,39.83 L181.97,38.07 L182.13,36.46 L182.29,35.02 L182.45,33.74 L182.61,32.63 L182.77,31.69 L182.93,30.92 L183.08,30.33 L183.24,29.91 L183.40,29.66 L183.56,29.60 L183.72,29.71 L183.88,30.00 L184.04,30.46 L184.20,31.10 L184.36,31.91 L184.51,32.89 L184.67,34.04 L184.83,35.35 L184.99,36.83 L185.15,38.46 L185.31,40.25 L185.47,42.19 L185.63,44.27 L185.79,46.49 L185.94,48.85 L186.10,51.33 L186.26,53.93 L186.42,56.65 L186.58,59.48 L186.74,62.41 L186.90,65.43 L187.06,68.53 L187.22,71.72 L187.37,74.97 L187.53,78.28 L187.69,81.65 L187.85,85.07 L188.01,88.52 L188.17,92.00 L188.33,95.49 L188.49,99.00 L188.65,102.51 L188.80,106.01 L188.96,109.50 L189.12,112.96 L189.28,116.39 L189.44,119.78 L189.60,123.11 L189.76,126.39 L189.92,129.60 L190.08,132.74 L190.23,135.79 L190.39,138.76 L190.55,141.62 L190.71,144.39 L190.87,147.04 L191.03,149.57 L191.19,151.98 L191.35,154.26 L191.51,156.40 L191.66,158.40 L191.82,160.26 L191.98,161.96 L192.14,163.51 L192.30,164.90 L192.46,166.13 L192.62,167.20 L192.78,168.09 L192.94,168.82 L193.09,169.38 L193.25,169.76 L193.41,169.97 L193.57,170.01 L193.73,169.87 L193.89,169.56 L194.05,169.07 L194.21,168.42 L194.37,167.59 L194.52,166.60 L194.68,165.44 L194.84,164.13 L195.00,162.65 L195.16,161.01 L195.32,159.23 L195.48,157.30 L195.64,155.23 L195.80,153.03 L195.95,150.69 L196.11,148.23 L196.27,145.65 L196.43,142.96 L196.59,140.16 L196.75,137.27 L196.91,134.28 L197.07,131.22 L197.23,128.07 L197.38,124.86 L197.54,121.59 L197.70,118.27 L197.86,114.91 L198.02,111.51 L198.18,108.09 L198.34,104.64 L198.50,101.19 L198.66,97.74 L198.81,94.30 L198.97,90.88 L199.13,87.48 L199.29,84.11 L199.45,80.79 L199.61,77.52 L199.77,74.30 L199.93,71.16 L200.09,68.08 L200.25,65.09 L200.40,62.19 L200.56,59.39 L200.72,56.69 L200.88,54.11 L201.04,51.63 L201.20,49.29 L201.36,47.07 L201.52,44.98 L201.68,43.04 L201.83,41.24 L201.99,39.59 L202.15,38.09 L202.31,36.74 L202.47,35.56 L202.63,34.54 L202.79,33.69 L202.95,33.00 L203.11,32.48 L203.26,32.13 L203.42,31.95 L203.58,31.95 L203.74,32.11 L203.90,32.44 L204.06,32.95 L204.22,33.62 L204.38,34.46 L204.54,35.46 L204.69,36.63 L204.85,37.95 L205.01,39.43 L205.17,41.06 L205.33,42.84 L205.49,44.76 L205.65,46.82 L205.81,49.01 L205.97,51.33 L206.12,53.77 L206.28,56.33 L206.44,58.99 L206.60,61.76 L206.76,64.62 L206.92,67.57 L207.08,70.60 L207.24,73.70 L207.40,76.87 L207.55,80.10 L207.71,83.37 L207.87,86.69 L208.03,90.03 L208.19,93.41 L208.35,96.79 L208.51,100.19 L208.67,103.58 L208.83,106.97 L208.98,110.33 L209.14,113.67 L209.30,116.98 L209.46,120.24 L209.62,123.45 L209.78,126.60 L209.94,129.68 L210.10,132.69 L210.26,135.62 L210.41,138.46 L210.57,141.20 L210.73,143.84 L210.89,146.36 L211.05,148.78 L211.21,151.06 L211.37,153.23 L211.53,155.25 L211.69,157.14 L211.84,158.89 L212.00,160.49 L212.16,161.94 L212.32,163.24 L212.48,164.37 L212.64,165.35 L212.80,166.17 L212.96,166.81 L213.12,167.30 L213.27,167.61 L213.43,167.76 L213.59,167.74 L213.75,167.55 L213.91,167.19 L214.07,166.67 L214.23,165.98 L214.39,165.13 L214.55,164.12 L214.70,162.94 L214.86,161.61 L215.02,160.13 L215.18,158.51 L215.34,156.73 L215.50,154.82 L215.66,152.77 L215.82,150.59 L215.98,148.29 L216.14,145.87 L216.29,143.34 L216.45,140.70 L216.61,137.96 L216.77,135.13 L216.93,132.21 L217.09,129.22 L217.25,126.15 L217.41,123.02 L217.57,119.84 L217.72,116.61 L217.88,113.34 L218.04,110.04 L218.20,106.72 L218.36,103.39 L218.52,100.04 L218.68,96.71 L218.84,93.38 L219.00,90.07 L219.15,86.79 L219.31,83.54 L219.47,80.34 L219.63,77.19 L219.79,74.10 L219.95,71.08 L220.11,68.13 L220.27,65.26 L220.43,62.48 L220.58,59.80 L220.74,57.22 L220.90,54.76 L221.06,52.40 L221.22,50.17 L221.38,48.06 L221.54,46.09 L221.70,44.25 L221.86,42.56 L222.01,41.00 L222.17,39.60 L222.33,38.35 L222.49,37.26 L222.65,36.33 L222.81,35.55 L222.97,34.94 L223.13,34.49 L223.29,34.21 L223.44,34.09 L223.60,34.14 L223.76,34.35 L223.92,34.73 L224.08,35.27 L224.24,35.98 L224.40,36.84 L224.56,37.87 L224.72,39.05 L224.87,40.38 L225.03,41.86 L225.19,43.49 L225.35,45.26 L225.51,47.16 L225.67,49.20 L225.83,51.37 L225.99,53.65 L226.15,56.05 L226.30,58.56 L226.46,61.18 L226.62,63.89 L226.78,66.69 L226.94,69.58 L227.10,72.54 L227.26,75.56 L227.42,78.65 L227.58,81.79 L227.73,84.98 L227.89,88.20 L228.05,91.45 L228.21,94.73 L228.37,98.01 L228.53,101.30 L228.69,104.59 L228.85,107.86 L229.01,111.12 L229.16,114.34 L229.32,117.53 L229.48,120.67 L229.64,123.77 L229.80,126.80 L229.96,129.76 L230.12,132.65 L230.28,135.46 L230.44,138.18 L230.59,140.80 L230.75,143.32 L230.91,145.74 L231.07,148.03 L231.23,150.21 L231.39,152.26 L231.55,154.19 L231.71,155.97 L231.87,157.62 L232.03,159.12 L232.18,160.48 L232.34,161.68 L232.50,162.73 L232.66,163.63 L232.82,164.36 L232.98,164.94 L233.14,165.35 L233.30,165.60 L233.46,165.69 L233.61,165.62 L233.77,165.38 L233.93,164.98 L234.09,164.42 L234.25,163.70 L234.41,162.82 L234.57,161.79 L234.73,160.60 L234.89,159.26 L235.04,157.78 L235.20,156.15 L235.36,154.39 L235.52,152.49 L235.68,150.46 L235.84,148.31 L236.00,146.04 L236.16,143.66 L236.32,141.17 L236.47,138.58 L236.63,135.89 L236.79,133.12 L236.95,130.27 L237.11,127.34 L237.27,124.35 L237.43,121.30 L237.59,118.20 L237.75,115.05 L237.90,111.87 L238.06,108.67 L238.22,105.44 L238.38,102.21 L238.54,98.97 L238.70,95.73 L238.86,92.51 L239.02,89.31 L239.18,86.14 L239.33,83.01 L239.49,79.92 L239.65,76.88 L239.81,73.91 L239.97,71.00 L240.13,68.17 L240.29,65.42 L240.45,62.75 L240.61,60.19 L240.76,57.72 L240.92,55.36 L241.08,53.12 L241.24,50.99 L241.40,48.99 L241.56,47.12 L241.72,45.39 L241.88,43.79 L242.04,42.33 L242.19,41.02 L242.35,39.86 L242.51,38.85 L242.67,38.00 L242.83,37.30 L242.99,36.76 L243.15,36.38 L243.31,36.15 L243.47,36.09 L243.62,36.19 L243.78,36.45 L243.94,36.87 L244.10,37.45 L244.26,38.19 L244.42,39.08 L244.58,40.12 L244.74,41.32 L244.90,42.66 L245.05,44.14 L245.21,45.77 L245.37,47.53 L245.53,49.42 L245.69,51.44 L245.85,53.57 L246.01,55.83 L246.17,58.20 L246.33,60.66 L246.48,63.23 L246.64,65.89 L246.80,68.64 L246.96,71.46 L247.12,74.35 L247.28,77.31 L247.44,80.32 L247.60,83.39 L247.76,86.49 L247.92,89.63 L248.07,92.79 L248.23,95.97 L248.39,99.16 L248.55,102.35 L248.71,105.53 L248.87,108.70 L249.03,111.85 L249.19,114.97 L249.35,118.05 L249.50,121.08 L249.66,124.06 L249.82,126.98 L249.98,129.84 L250.14,132.62 L250.30,135.31 L250.46,137.92 L250.62,140.43 L250.78,142.84 L250.93,145.15 L251.09,147.34 L251.25,149.41 L251.41,151.36 L251.57,153.18 L251.73,154.87 L251.89,156.42 L252.05,157.83 L252.21,159.10 L252.36,160.22 L252.52,161.19 L252.68,162.01 L252.84,162.67 L253.00,163.17 L253.16,163.52 L253.32,163.72 L253.48,163.75 L253.64,163.62 L253.79,163.34 L253.95,162.90 L254.11,162.31 L254.27,161.56 L254.43,160.65 L254.59,159.60 L254.75,158.40 L254.91,157.05 L255.07,155.57 L255.22,153.95 L255.38,152.19 L255.54,150.31 L255.70,148.30 L255.86,146.17 L256.02,143.93 L256.18,141.58 L256.34,139.13 L256.50,136.59 L256.65,133.95 L256.81,131.23 L256.97,128.44 L257.13,125.58 L257.29,122.65 L257.45,119.68 L257.61,116.65 L257.77,113.59 L257.93,110.49 L258.08,107.37 L258.24,104.24 L258.40,101.10 L258.56,97.95 L258.72,94.82 L258.88,91.70 L259.04,88.60 L259.20,85.53 L259.36,82.50 L259.51,79.52 L259.67,76.59 L259.83,73.73 L259.99,70.93 L260.15,68.20 L260.31,65.56 L260.47,63.01 L260.63,60.55 L260.79,58.19 L260.94,55.93 L261.10,53.79 L261.26,51.77 L261.42,49.87 L261.58,48.10 L261.74,46.46 L261.90,44.95 L262.06,43.58 L262.22,42.36 L262.38,41.28 L262.53,40.35 L262.69,39.57 L262.85,38.94 L263.01,38.47 L263.17,38.15 L263.33,37.99 L263.49,37.98 L263.65,38.13 L263.81,38.43 L263.96,38.89 L264.12,39.50 L264.28,40.27 L264.44,41.18 L264.60,42.25 L264.76,43.45 L264.92,44.80 L265.08,46.29 L265.24,47.91 L265.39,49.66 L265.55,51.54 L265.71,53.54 L265.87,55.65 L266.03,57.88 L266.19,60.21 L266.35,62.64 L266.51,65.17 L266.67,67.78 L266.82,70.47 L266.98,73.23 L267.14,76.06 L267.30,78.96 L267.46,81.90 L267.62,84.89 L267.78,87.91 L267.94,90.97 L268.10,94.05 L268.25,97.14 L268.41,100.24 L268.57,103.33 L268.73,106.42 L268.89,109.49 L269.05,112.54 L269.21,115.56 L269.37,118.54 L269.53,121.47 L269.68,124.34 L269.84,127.16 L270.00,129.91 L270.16,132.58 L270.32,135.17 L270.48,137.67 L270.64,140.08 L270.80,142.39 L270.96,144.59 L271.11,146.68 L271.27,148.66 L271.43,150.51 L271.59,152.24 L271.75,153.83 L271.91,155.30 L272.07,156.62 L272.23,157.80 L272.39,158.84 L272.54,159.73 L272.70,160.48 L272.86,161.07 L273.02,161.51 L273.18,161.80 L273.34,161.94 L273.50,161.92 L273.66,161.75 L273.82,161.42 L273.97,160.94 L274.13,160.31 L274.29,159.54 L274.45,158.61 L274.61,157.54 L274.77,156.33 L274.93,154.97 L275.09,153.48 L275.25,151.86 L275.40,150.12 L275.56,148.24 L275.72,146.25 L275.88,144.15 L276.04,141.94 L276.20,139.62 L276.36,137.21 L276.52,134.71 L276.68,132.12 L276.83,129.45 L276.99,126.72 L277.15,123.92 L277.31,121.06 L277.47,118.15 L277.63,115.19 L277.79,112.21 L277.95,109.19 L278.11,106.15 L278.26,103.10 L278.42,100.05 L278.58,96.99 L278.74,93.95 L278.90,90.93 L279.06,87.93 L279.22,84.96 L279.38,82.03 L279.54,79.15 L279.70,76.32 L279.85,73.56 L280.01,70.86 L280.17,68.24 L280.33,65.70 L280.49,63.24 L280.65,60.89 L280.81,58.63 L280.97,56.47 L281.13,54.43 L281.28,52.50 L281.44,50.70 L281.60,49.02 L281.76,47.46 L281.92,46.04 L282.08,44.76 L282.24,43.62 L282.40,42.62 L282.56,41.76 L282.71,41.05 L282.87,40.49 L283.03,40.08 L283.19,39.82 L283.35,39.71 L283.51,39.76 L283.67,39.95 L283.83,40.30 L283.99,40.80 L284.14,41.44 L284.30,42.23 L284.46,43.17 L284.62,44.25 L284.78,45.47 L284.94,46.82 L285.10,48.31 L285.26,49.93 L285.42,51.68 L285.57,53.54 L285.73,55.52 L285.89,57.62 L286.05,59.82 L286.21,62.12 L286.37,64.51 L286.53,66.99 L286.69,69.56 L286.85,72.20 L287.00,74.91 L287.16,77.68 L287.32,80.51 L287.48,83.39 L287.64,86.30 L287.80,89.26 L287.96,92.23 L288.12,95.23 L288.28,98.24 L288.43,101.25 L288.59,104.26 L288.75,107.26 L288.91,110.24 L289.07,113.20 L289.23,116.12 L289.39,119.00 L289.55,121.83 L289.71,124.61 L289.86,127.33 L290.02,129.97 L290.18,132.55 L290.34,135.04 L290.50,137.44 L290.66,139.75 L290.82,141.96 L290.98,144.07 L291.14,146.06 L291.29,147.95 L291.45,149.71 L291.61,151.34 L291.77,152.85 L291.93,154.23 L292.09,155.47 L292.25,156.58 L292.41,157.54 L292.57,158.36 L292.72,159.04 L292.88,159.56 L293.04,159.94 L293.20,160.18 L293.36,160.26 L293.52,160.19 L293.68,159.97 L293.84,159.61 L294.00,159.09 L294.15,158.43 L294.31,157.63 L294.47,156.68 L294.63,155.59 L294.79,154.36 L294.95,153.01 L295.11,151.51 L295.27,149.90 L295.43,148.16 L295.59,146.30 L295.74,144.32 L295.90,142.24 L296.06,140.06 L296.22,137.77 L296.38,135.40 L296.54,132.93 L296.70,130.39 L296.86,127.77 L297.02,125.09 L297.17,122.34 L297.33,119.55 L297.49,116.70 L297.65,113.82 L297.81,110.90 L297.97,107.96 L298.13,105.00 L298.29,102.03 L298.45,99.06 L298.60,96.09 L298.76,93.14 L298.92,90.20 L299.08,87.29 L299.24,84.41 L299.40,81.58 L299.56,78.79 L299.72,76.06 L299.88,73.39 L300.03,70.79 L300.19,68.27 L300.35,65.83 L300.51,63.47 L300.67,61.21 L300.83,59.04 L300.99,56.98 L301.15,55.03 L301.31,53.20 L301.46,51.48 L301.62,49.88 L301.78,48.42 L301.94,47.08 L302.10,45.88 L302.26,44.81 L302.42,43.88 L302.58,43.10 L302.74,42.46 L302.89,41.96 L303.05,41.61 L303.21,41.41 L303.37,41.35 L303.53,41.44 L303.69,41.68 L303.85,42.07 L304.01,42.60 L304.17,43.27 L304.32,44.09 L304.48,45.05 L304.64,46.14 L304.80,47.38 L304.96,48.74 L305.12,50.23 L305.28,51.85 L305.44,53.58 L305.60,55.44 L305.75,57.40 L305.91,59.47 L306.07,61.65 L306.23,63.92 L306.39,66.28 L306.55,68.72 L306.71,71.24 L306.87,73.83 L307.03,76.49 L307.18,79.21 L307.34,81.98 L307.50,84.79 L307.66,87.64 L307.82,90.53 L307.98,93.43 L308.14,96.35 L308.30,99.28 L308.46,102.22 L308.61,105.14 L308.77,108.06 L308.93,110.95 L309.09,113.82 L309.25,116.65 L309.41,119.44 L309.57,122.18 L309.73,124.86 L309.89,127.48 L310.04,130.04 L310.20,132.51 L310.36,134.91 L310.52,137.22 L310.68,139.44 L310.84,141.56 L311.00,143.57 L311.16,145.48 L311.32,147.27 L311.48,148.94 L311.63,150.50 L311.79,151.92 L311.95,153.22 L312.11,154.39 L312.27,155.42 L312.43,156.31 L312.59,157.06 L312.75,157.67 L312.91,158.13 L313.06,158.46 L313.22,158.63 L313.38,158.66 L313.54,158.55 L313.70,158.29 L313.86,157.88 L314.02,157.34 L314.18,156.65 L314.34,155.82 L314.49,154.85 L314.65,153.74 L314.81,152.51 L314.97,151.14 L315.13,149.65 L315.29,148.03 L315.45,146.30 L315.61,144.45 L315.77,142.49 L315.92,140.43 L316.08,138.27 L316.24,136.02 L316.40,133.68 L316.56,131.25 L316.72,128.75 L316.88,126.18 L317.04,123.55 L317.20,120.86 L317.35,118.12 L317.51,115.33 L317.67,112.51 L317.83,109.66 L317.99,106.79 L318.15,103.91 L318.31,101.01 L318.47,98.12 L318.63,95.23 L318.78,92.36 L318.94,89.51 L319.10,86.69 L319.26,83.90 L319.42,81.16 L319.58,78.46 L319.74,75.82 L319.90,73.24 L320.06,70.73 L320.21,68.30 L320.37,65.95 L320.53,63.68 L320.69,61.51 L320.85,59.44 L321.01,57.47 L321.17,55.61 L321.33,53.86 L321.49,52.22 L321.64,50.71 L321.80,49.32 L321.96,48.06 L322.12,46.94 L322.28,45.94 L322.44,45.09 L322.60,44.37 L322.76,43.79 L322.92,43.35 L323.07,43.06 L323.23,42.91 L323.39,42.90 L323.55,43.04 L323.71,43.32 L323.87,43.74 L324.03,44.31 L324.19,45.01 L324.35,45.85 L324.50,46.83 L324.66,47.94 L324.82,49.19 L324.98,50.56 L325.14,52.05 L325.30,53.66 L325.46,55.39 L325.62,57.24 L325.78,59.19 L325.94,61.24 L326.09,63.39 L326.25,65.63 L326.41,67.95 L326.57,70.36 L326.73,72.84 L326.89,75.39 L327.05,77.99 L327.21,80.66 L327.37,83.37 L327.52,86.13 L327.68,88.91 L327.84,91.73 L328.00,94.57 L328.16,97.42 L328.32,100.27 L328.48,103.13 L328.64,105.98 L328.80,108.81 L328.95,111.62 L329.11,114.40 L329.27,117.15 L329.43,119.85 L329.59,122.50 L329.75,125.10 L329.91,127.63 L330.07,130.09 L330.23,132.48 L330.38,134.79 L330.54,137.01 L330.70,139.14 L330.86,141.17 L331.02,143.10 L331.18,144.92 L331.34,146.63 L331.50,148.22 L331.66,149.69 L331.81,151.04 L331.97,152.26 L332.13,153.35 L332.29,154.31 L332.45,155.14 L332.61,155.82 L332.77,156.37 L332.93,156.78 L333.09,157.04 L333.24,157.17 L333.40,157.15 L333.56,156.99 L333.72,156.69 L333.88,156.25 L334.04,155.67 L334.20,154.95 L334.36,154.10 L334.52,153.11 L334.67,151.99 L334.83,150.74 L334.99,149.37 L335.15,147.87 L335.31,146.26 L335.47,144.53 L335.63,142.70 L335.79,140.76 L335.95,138.71 L336.10,136.58 L336.26,134.35 L336.42,132.04 L336.58,129.65 L336.74,127.19 L336.90,124.67 L337.06,122.08 L337.22,119.44 L337.38,116.76 L337.53,114.03 L337.69,111.27 L337.85,108.49 L338.01,105.69 L338.17,102.87 L338.33,100.05 L338.49,97.23 L338.65,94.42 L338.81,91.63 L338.96,88.86 L339.12,86.12 L339.28,83.41 L339.44,80.75 L339.60,78.14 L339.76,75.59 L339.92,73.10 L340.08,70.68 L340.24,68.33 L340.39,66.07 L340.55,63.89 L340.71,61.81 L340.87,59.82 L341.03,57.93 L341.19,56.15 L341.35,54.48 L341.51,52.93 L341.67,51.50 L341.82,50.19 L341.98,49.00 L342.14,47.94 L342.30,47.02 L342.46,46.23 L342.62,45.57 L342.78,45.06 L342.94,44.68 L343.10,44.44 L343.26,44.34 L343.41,44.38 L343.57,44.56 L343.73,44.88 L343.89,45.34 L344.05,45.93 L344.21,46.66 L344.37,47.53 L344.53,48.53 L344.69,49.65 L344.84,50.91 L345.00,52.28 L345.16,53.78 L345.32,55.39 L345.48,57.12 L345.64,58.95 L345.80,60.88 L345.96,62.91 L346.12,65.04 L346.27,67.25 L346.43,69.54 L346.59,71.91 L346.75,74.36 L346.91,76.86 L347.07,79.42 L347.23,82.04 L347.39,84.70 L347.55,87.39 L347.70,90.12 L347.86,92.88 L348.02,95.65 L348.18,98.43 L348.34,101.21 L348.50,104.00 L348.66,106.77 L348.82,109.52 L348.98,112.26 L349.13,114.96 L349.29,117.62 L349.45,120.24 L349.61,122.81 L349.77,125.32 L349.93,127.77 L350.09,130.15 L350.25,132.45 L350.41,134.67 L350.56,136.81 L350.72,138.85 L350.88,140.80 L351.04,142.65 L351.20,144.39 L351.36,146.01 L351.52,147.53 L351.68,148.92 L351.84,150.20 L351.99,151.35 L352.15,152.37 L352.31,153.26 L352.47,154.02 L352.63,154.64 L352.79,155.13 L352.95,155.48 L353.11,155.70 L353.27,155.77 L353.42,155.71 L353.58,155.51 L353.74,155.17 L353.90,154.69 L354.06,154.08 L354.22,153.34 L354.38,152.46 L354.54,151.45 L354.70,150.32 L354.85,149.06 L355.01,147.68 L355.17,146.19 L355.33,144.58 L355.49,142.85 L355.65,141.03 L355.81,139.10 L355.97,137.08 L356.13,134.97 L356.28,132.77 L356.44,130.49 L356.60,128.13 L356.76,125.71 L356.92,123.23 L357.08,120.69 L357.24,118.10 L357.40,115.47 L357.56,112.80 L357.71,110.10 L357.87,107.37 L358.03,104.63 L358.19,101.88 L358.35,99.13 L358.51,96.39 L358.67,93.65 L358.83,90.93 L358.99,88.24 L359.15,85.58 L359.30,82.95 L359.46,80.37 L359.62,77.85 L359.78,75.37 L359.94,72.97 L360.10,70.63 L360.26,68.37 L360.42,66.19 L360.58,64.09 L360.73,62.09 L360.89,60.18 L361.05,58.37 L361.21,56.67 L361.37,55.08 L361.53,53.61 L361.69,52.25 L361.85,51.01 L362.01,49.89 L362.16,48.91 L362.32,48.05 L362.48,47.32 L362.64,46.73 L362.80,46.27 L362.96,45.94 L363.12,45.75 L363.28,45.70 L363.44,45.79 L363.59,46.01 L363.75,46.37 L363.91,46.86 L364.07,47.48 L364.23,48.24 L364.39,49.13 L364.55,50.14 L364.71,51.29 L364.87,52.55 L365.02,53.93 L365.18,55.43 L365.34,57.04 L365.50,58.76 L365.66,60.58 L365.82,62.50 L365.98,64.51 L366.14,66.61 L366.30,68.80 L366.45,71.06 L366.61,73.40 L366.77,75.80 L366.93,78.27 L367.09,80.78 L367.25,83.35 L367.41,85.96 L367.57,88.60 L367.73,91.27 L367.88,93.97 L368.04,96.67 L368.20,99.39 L368.36,102.11 L368.52,104.82 L368.68,107.52 L368.84,110.20 L369.00,112.86 L369.16,115.48 L369.31,118.07 L369.47,120.61 L369.63,123.10 L369.79,125.53 L369.95,127.90 L370.11,130.19 L370.27,132.42 L370.43,134.56 L370.59,136.61 L370.74,138.58 L370.90,140.45 L371.06,142.21 L371.22,143.87 L371.38,145.43 L371.54,146.87 L371.70,148.19 L371.86,149.39 L372.02,150.47 L372.17,151.43 L372.33,152.25 L372.49,152.95 L372.65,153.52 L372.81,153.95 L372.97,154.25 L373.13,154.41 L373.29,154.44 L373.45,154.33 L373.61,154.09 L373.76,153.72 L373.92,153.21 L374.08,152.57 L374.24,151.80 L374.40,150.90 L374.56,149.87 L374.72,148.73 L374.88,147.46 L375.04,146.07 L375.19,144.58 L375.35,142.97 L375.51,141.25 L375.67,139.44 L375.83,137.52 L375.99,135.52 L376.15,133.43 L376.31,131.26 L376.47,129.01 L376.62,126.69 L376.78,124.30 L376.94,121.86 L377.10,119.36 L377.26,116.82 L377.42,114.23 L377.58,111.62 L377.74,108.97 L377.90,106.31 L378.05,103.63 L378.21,100.95 L378.37,98.26 L378.53,95.58 L378.69,92.92 L378.85,90.27 L379.01,87.65 L379.17,85.06 L379.33,82.52 L379.48,80.01 L379.64,77.56 L379.80,75.17 L379.96,72.84 L380.12,70.58 L380.28,68.40 L380.44,66.30 L380.60,64.28 L380.76,62.36 L380.91,60.53 L381.07,58.80 L381.23,57.17 L381.39,55.66 L381.55,54.25" stroke="#800080" stroke-width="1.7"/>
</g>
<line x1="56.75" x2="387.80" y1="100.40" y2="100.40" stroke="#262626" stroke-width="0.75"/>
<g stroke="#6e6e6e" stroke-width="0.8" fill="none">
<line x1="56.75" x2="56.75" y1="0.40" y2="199.30" stroke="#868686"/>
<line x1="56.75" x2="387.80" y1="0.40" y2="0.40" stroke="#4a4a4a"/>
<line x1="56.75" x2="387.80" y1="199.30" y2="199.30" stroke="#4a4a4a"/>
<line x1="387.95" x2="387.95" y1="0.40" y2="199.30" stroke="#d0d0d0" stroke-width="1.8"/>
<line x1="63.50" x2="63.50" y1="199.30" y2="195.60"/>
<line x1="63.50" x2="63.50" y1="0.40" y2="4.10"/>
<line x1="79.39" x2="79.39" y1="199.30" y2="197.10"/>
<line x1="79.39" x2="79.39" y1="0.40" y2="2.60"/>
<line x1="95.28" x2="95.28" y1="199.30" y2="197.10"/>
<line x1="95.28" x2="95.28" y1="0.40" y2="2.60"/>
<line x1="111.17" x2="111.17" y1="199.30" y2="197.10"/>
<line x1="111.17" x2="111.17" y1="0.40" y2="2.60"/>
<line x1="127.06" x2="127.06" y1="199.30" y2="195.60"/>
<line x1="127.06" x2="127.06" y1="0.40" y2="4.10"/>
<line x1="142.95" x2="142.95" y1="199.30" y2="197.10"/>
<line x1="142.95" x2="142.95" y1="0.40" y2="2.60"/>
<line x1="158.84" x2="158.84" y1="199.30" y2="197.10"/>
<line x1="158.84" x2="158.84" y1="0.40" y2="2.60"/>
<line x1="174.73" x2="174.73" y1="199.30" y2="197.10"/>
<line x1="174.73" x2="174.73" y1="0.40" y2="2.60"/>
<line x1="190.62" x2="190.62" y1="199.30" y2="195.60"/>
<line x1="190.62" x2="190.62" y1="0.40" y2="4.10"/>
<line x1="206.51" x2="206.51" y1="199.30" y2="197.10"/>
<line x1="206.51" x2="206.51" y1="0.40" y2="2.60"/>
<line x1="222.40" x2="222.40" y1="199.30" y2="197.10"/>
<line x1="222.40" x2="222.40" y1="0.40" y2="2.60"/>
<line x1="238.29" x2="238.29" y1="199.30" y2="197.10"/>
<line x1="238.29" x2="238.29" y1="0.40" y2="2.60"/>
<line x1="254.18" x2="254.18" y1="199.30" y2="195.60"/>
<line x1="254.18" x2="254.18" y1="0.40" y2="4.10"/>
<line x1="270.07" x2="270.07" y1="199.30" y2="197.10"/>
<line x1="270.07" x2="270.07" y1="0.40" y2="2.60"/>
<line x1="285.96" x2="285.96" y1="199.30" y2="197.10"/>
<line x1="285.96" x2="285.96" y1="0.40" y2="2.60"/>
<line x1="301.85" x2="301.85" y1="199.30" y2="197.10"/>
<line x1="301.85" x2="301.85" y1="0.40" y2="2.60"/>
<line x1="317.74" x2="317.74" y1="199.30" y2="195.60"/>
<line x1="317.74" x2="317.74" y1="0.40" y2="4.10"/>
<line x1="333.63" x2="333.63" y1="199.30" y2="197.10"/>
<line x1="333.63" x2="333.63" y1="0.40" y2="2.60"/>
<line x1="349.52" x2="349.52" y1="199.30" y2="197.10"/>
<line x1="349.52" x2="349.52" y1="0.40" y2="2.60"/>
<line x1="365.41" x2="365.41" y1="199.30" y2="197.10"/>
<line x1="365.41" x2="365.41" y1="0.40" y2="2.60"/>
<line x1="381.30" x2="381.30" y1="199.30" y2="195.60"/>
<line x1="381.30" x2="381.30" y1="0.40" y2="4.10"/>
<line x1="56.75" x2="60.45" y1="190.40" y2="190.40"/>
<line x1="387.80" x2="384.10" y1="190.40" y2="190.40"/>
<line x1="56.75" x2="58.95" y1="181.40" y2="181.40"/>
<line x1="387.80" x2="385.60" y1="181.40" y2="181.40"/>
<line x1="56.75" x2="58.95" y1="172.40" y2="172.40"/>
<line x1="387.80" x2="385.60" y1="172.40" y2="172.40"/>
<line x1="56.75" x2="58.95" y1="163.40" y2="163.40"/>
<line x1="387.80" x2="385.60" y1="163.40" y2="163.40"/>
<line x1="56.75" x2="58.95" y1="154.40" y2="154.40"/>
<line x1="387.80" x2="385.60" y1="154.40" y2="154.40"/>
<line x1="56.75" x2="60.45" y1="145.40" y2="145.40"/>
<line x1="387.80" x2="384.10" y1="145.40" y2="145.40"/>
<line x1="56.75" x2="58.95" y1="136.40" y2="136.40"/>
<line x1="387.80" x2="385.60" y1="136.40" y2="136.40"/>
<line x1="56.75" x2="58.95" y1="127.40" y2="127.40"/>
<line x1="387.80" x2="385.60" y1="127.40" y2="127.40"/>
<line x1="56.75" x2="58.95" y1="118.40" y2="118.40"/>
<line x1="387.80" x2="385.60" y1="118.40" y2="118.40"/>
<line x1="56.75" x2="58.95" y1="109.40" y2="109.40"/>
<line x1="387.80" x2="385.60" y1="109.40" y2="109.40"/>
<line x1="56.75" x2="60.45" y1="100.40" y2="100.40"/>
<line x1="387.80" x2="384.10" y1="100.40" y2="100.40"/>
<line x1="56.75" x2="58.95" y1="91.40" y2="91.40"/>
<line x1="387.80" x2="385.60" y1="91.40" y2="91.40"/>
<line x1="56.75" x2="58.95" y1="82.40" y2="82.40"/>
<line x1="387.80" x2="385.60" y1="82.40" y2="82.40"/>
<line x1="56.75" x2="58.95" y1="73.40" y2="73.40"/>
<line x1="387.80" x2="385.60" y1="73.40" y2="73.40"/>
<line x1="56.75" x2="58.95" y1="64.40" y2="64.40"/>
<line x1="387.80" x2="385.60" y1="64.40" y2="64.40"/>
<line x1="56.75" x2="60.45" y1="55.40" y2="55.40"/>
<line x1="387.80" x2="384.10" y1="55.40" y2="55.40"/>
<line x1="56.75" x2="58.95" y1="46.40" y2="46.40"/>
<line x1="387.80" x2="385.60" y1="46.40" y2="46.40"/>
<line x1="56.75" x2="58.95" y1="37.40" y2="37.40"/>
<line x1="387.80" x2="385.60" y1="37.40" y2="37.40"/>
<line x1="56.75" x2="58.95" y1="28.40" y2="28.40"/>
<line x1="387.80" x2="385.60" y1="28.40" y2="28.40"/>
<line x1="56.75" x2="58.95" y1="19.40" y2="19.40"/>
<line x1="387.80" x2="385.60" y1="19.40" y2="19.40"/>
<line x1="56.75" x2="60.45" y1="10.40" y2="10.40"/>
<line x1="387.80" x2="384.10" y1="10.40" y2="10.40"/>
</g>
<g style="will-change:transform">
<text class="tk" transform="translate(63.80,211.00) scale(0.920,1)" text-anchor="middle">100</text>
<text class="tk" transform="translate(127.36,211.00) scale(0.920,1)" text-anchor="middle">120</text>
<text class="tk" transform="translate(190.92,211.00) scale(0.920,1)" text-anchor="middle">140</text>
<text class="tk" transform="translate(254.48,211.00) scale(0.920,1)" text-anchor="middle">160</text>
<text class="tk" transform="translate(318.04,211.00) scale(0.920,1)" text-anchor="middle">180</text>
<text class="tk" transform="translate(381.60,211.00) scale(0.920,1)" text-anchor="middle">200</text>
<text class="tk" transform="translate(53.90,13.70) scale(0.920,1)" text-anchor="end">1.0</text>
<text class="tk" transform="translate(53.90,58.70) scale(0.920,1)" text-anchor="end">0.5</text>
<text class="tk" transform="translate(53.90,103.70) scale(0.920,1)" text-anchor="end">0.0</text>
<text class="tk" transform="translate(53.90,148.70) scale(0.920,1)" text-anchor="end">−0.5</text>
<text class="tk" transform="translate(53.90,193.70) scale(0.920,1)" text-anchor="end">−1.0</text>
<text style="font-family:'Liberation Serif',serif;font-style:italic;font-size:13.5px;fill:#111"><tspan x="206.6" y="234.0">t</tspan><tspan x="210.3" y="236.4" style="font-family:'DejaVu Sans',sans-serif;font-style:normal;font-size:16px">⋆</tspan><tspan x="220.0" y="234.0" style="font-size:14px">M</tspan><tspan x="231.8" y="235.6" style="font-size:10.8px">ϕ</tspan></text>
<text transform="translate(25.20,0) rotate(-90)" text-anchor="middle" fill="#111"><tspan x="-123.60" y="0.00" style="font-family:'Liberation Sans',sans-serif;font-style:italic;font-size:13.2px;stroke:#111;stroke-width:0.4px">φ</tspan><tspan x="-115.30" y="0.00" style="font-family:'Liberation Sans',sans-serif;font-size:13px">(</tspan><tspan x="-110.65" y="0.00" style="font-family:'Liberation Serif',serif;font-style:italic;font-size:13px">t</tspan><tspan x="-106.95" y="0.00" style="font-family:'Liberation Sans',sans-serif;font-size:13px">)</tspan><tspan x="-101.35" y="0.00" style="font-family:'Liberation Sans',sans-serif;font-size:13px">/</tspan><tspan x="-93.30" y="0.00" style="font-family:'Liberation Sans',sans-serif;font-style:italic;font-size:13.2px;stroke:#111;stroke-width:0.4px">φ</tspan><tspan x="-85.20" y="0.00" style="font-family:'Liberation Sans',sans-serif;font-size:13px">(</tspan><tspan x="-80.65" y="0.00" style="font-family:'Liberation Serif',serif;font-style:italic;font-size:13px">t</tspan><tspan x="-77.30" y="1.90" style="font-family:'Liberation Serif',serif;font-style:italic;font-size:9px">i</tspan><tspan x="-73.65" y="0.00" style="font-family:'Liberation Sans',sans-serif;font-size:13px">)</tspan></text>
<line x1="409.1" x2="429.3" y1="98.45" y2="98.45" stroke="#f00" stroke-width="2.00"/>
<text class="lg" x="434.3" y="102.00">Full solution</text>
<line x1="409.1" x2="429.3" y1="117.50" y2="117.50" stroke="#e19c24" stroke-width="1.35"/>
<text class="lg" x="434.3" y="121.00">Damping due to particle production</text>
<line x1="409.1" x2="429.3" y1="138.00" y2="138.00" stroke="#800080" stroke-width="1.55"/>
<text class="lg" x="434.3" y="141.50">Damping due to universe expansion</text>
</g>
</svg></body></html>
